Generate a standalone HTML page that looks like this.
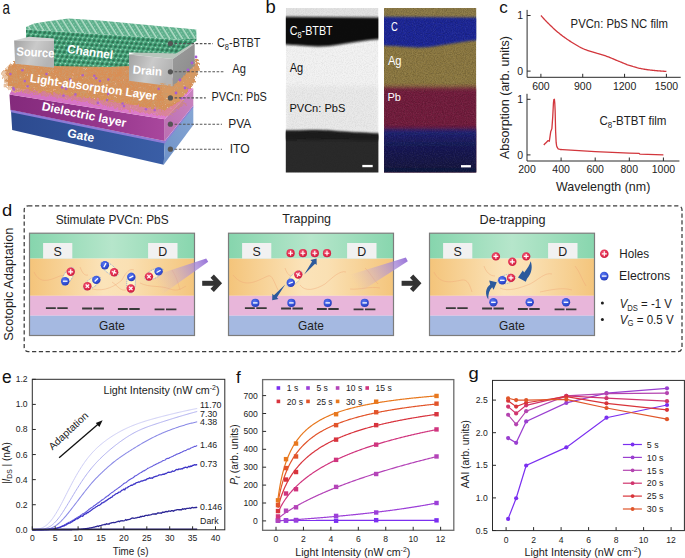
<!DOCTYPE html>
<html><head><meta charset="utf-8">
<style>
html,body{margin:0;padding:0;background:#fff;}
body{width:685px;height:558px;overflow:hidden;}
svg{display:block;font-family:"Liberation Sans", sans-serif;}
</style></head><body>
<svg width="685" height="558" viewBox="0 0 685 558" fill="#1a1a1a">
<text x="2.60" y="14.00" font-size="18.56" fill="#111" transform="translate(2.60 14.00) scale(0.72 1) translate(-2.60 -14.00)">a</text>
<text x="265.40" y="13.10" font-size="17.42" fill="#111" transform="translate(265.40 13.10) scale(1.06 1) translate(-265.40 -13.10)">b</text>
<text x="499.30" y="13.40" font-size="17.05" fill="#111" transform="translate(499.30 13.40) scale(1.0 1) translate(-499.30 -13.40)">c</text>
<text x="2.00" y="216.20" font-size="17.05" fill="#111" transform="translate(2.00 216.20) scale(1.08 1) translate(-2.00 -216.20)">d</text>
<text x="2.00" y="382.80" font-size="18.56" fill="#111" transform="translate(2.00 382.80) scale(0.94 1) translate(-2.00 -382.80)">e</text>
<text x="236.00" y="383.40" font-size="16.29" fill="#111" transform="translate(236.00 383.40) scale(1.05 1) translate(-236.00 -383.40)">f</text>
<text x="468.40" y="379.50" font-size="17.05" fill="#111" transform="translate(468.40 379.50) scale(1.08 1) translate(-468.40 -379.50)">g</text>
<defs>
<linearGradient id="gateF" x1="0" y1="0" x2="1" y2="0"><stop offset="0" stop-color="#2c4a8f"/><stop offset="1" stop-color="#3a5ea6"/></linearGradient>
<linearGradient id="gateR" x1="0" y1="1" x2="1" y2="0"><stop offset="0" stop-color="#6f92c8"/><stop offset="1" stop-color="#86a6d4"/></linearGradient>
<linearGradient id="pvaF" x1="0" y1="0" x2="1" y2="0"><stop offset="0" stop-color="#842a7c"/><stop offset="0.6" stop-color="#96368c"/><stop offset="1" stop-color="#a9479d"/></linearGradient>
<linearGradient id="pvaT" x1="0" y1="0" x2="1" y2="0"><stop offset="0" stop-color="#d270c2"/><stop offset="1" stop-color="#e07fcf"/></linearGradient>
<linearGradient id="pvaR" x1="0" y1="1" x2="1" y2="0"><stop offset="0" stop-color="#bb6fb2"/><stop offset="1" stop-color="#c984c0"/></linearGradient>
<linearGradient id="metF" x1="0" y1="0" x2="1" y2="0.3"><stop offset="0" stop-color="#a2a2a2"/><stop offset="0.55" stop-color="#cacaca"/><stop offset="1" stop-color="#b4b4b4"/></linearGradient>
<linearGradient id="metR" x1="0" y1="0" x2="1" y2="1"><stop offset="0" stop-color="#9c9c9c"/><stop offset="1" stop-color="#8a8a8a"/></linearGradient>
<pattern id="lattT" patternUnits="userSpaceOnUse" width="5.4" height="3.4" patternTransform="rotate(-32)">
 <rect width="5.4" height="3.4" fill="#5cae8a"/>
 <rect x="3.9" y="0" width="1.5" height="3.4" fill="#b4dec9"/>
 <rect x="0.7" y="0.4" width="1.5" height="1.8" rx="0.7" fill="#86caac"/>
</pattern>
<pattern id="lattF" patternUnits="userSpaceOnUse" width="4.7" height="4.5" patternTransform="rotate(4) skewX(-22)">
 <rect width="4.7" height="4.5" fill="#46a67b"/>
 <ellipse cx="2.3" cy="2.4" rx="1.35" ry="1.55" fill="#2e6f52"/>
 <ellipse cx="4.2" cy="0.6" rx="0.9" ry="0.6" fill="#c2e6d4"/>
 <ellipse cx="0.5" cy="4.2" rx="0.6" ry="0.4" fill="#a8dcc2"/>
</pattern>
<filter id="fuzz" x="-10%" y="-20%" width="120%" height="140%">
 <feTurbulence type="fractalNoise" baseFrequency="0.35" numOctaves="3" seed="7" result="t"/>
 <feDisplacementMap in="SourceGraphic" in2="t" scale="7" xChannelSelector="R" yChannelSelector="G"/>
</filter>
<filter id="orTex" x="0" y="0" width="100%" height="100%">
 <feTurbulence type="fractalNoise" baseFrequency="0.6" numOctaves="2" seed="3" result="t"/>
 <feColorMatrix in="t" type="matrix" values="0 0 0 0 0.55  0 0 0 0 0.25  0 0 0 0 0.1  0 0 0 -2.2 1.25" result="c"/>
 <feComposite in="c" in2="SourceGraphic" operator="in"/>
</filter>
<filter id="orTex2" x="0" y="0" width="100%" height="100%">
 <feTurbulence type="turbulence" baseFrequency="0.45 0.8" numOctaves="2" seed="11" result="t"/>
 <feColorMatrix in="t" type="matrix" values="0 0 0 0 0.62  0 0 0 0 0.32  0 0 0 0 0.14  2.6 0 0 0 -0.4" result="fib"/>
 <feComposite in="fib" in2="SourceAlpha" operator="in" result="fibIn"/>
 <feTurbulence type="fractalNoise" baseFrequency="0.7" numOctaves="1" seed="21" result="t2"/>
 <feColorMatrix in="t2" type="matrix" values="0 0 0 0 0.98  0 0 0 0 0.86  0 0 0 0 0.72  3 0 0 0 -2.0" result="spk"/>
 <feComposite in="spk" in2="SourceAlpha" operator="in" result="spkIn"/>
 <feMerge><feMergeNode in="SourceGraphic"/><feMergeNode in="fibIn"/><feMergeNode in="spkIn"/></feMerge>
</filter>
<filter id="soft"><feGaussianBlur stdDeviation="0.4"/></filter>
</defs>
<polygon points="11,111.3 164.8,142.8 163.7,164.8 12.2,130.0" fill="url(#gateF)"/>
<polygon points="164.8,142.8 193.3,106.4 193.3,125.0 163.7,164.8" fill="url(#gateR)"/>
<polygon points="10.4,109.6 164.8,140.9 193.3,105.4 193.3,107.2 164.8,143.6 11,112.2" fill="#8c7ad6"/>
<polygon points="9.5,94.6 164.7,119.2 164.7,140.9 10.4,109.8" fill="url(#pvaF)"/>
<polygon points="164.7,119.2 193.3,88.6 193.3,105.4 164.7,140.9" fill="url(#pvaR)"/>
<polygon points="9.5,94.6 164.7,119.2 193.3,88.6 60,66 20,72" fill="url(#pvaT)"/>
<g filter="url(#fuzz)"><polygon points="2.00,72.00 10.00,64.00 30.00,62.00 40.00,64.00 30.00,70.00 22.00,80.00 26.00,90.00 14.00,93.00 4.00,86.00" fill="#e6b48a" opacity="0.75" filter="url(#orTex2)"/></g>
<g filter="url(#fuzz)"><polygon points="12.00,86.00 60.00,92.00 120.00,100.00 165.00,106.00 180.00,98.00 186.00,104.00 168.00,116.00 130.00,110.50 80.00,101.00 30.00,93.50 12.00,90.00" fill="#d48a58" opacity="0.45" filter="url(#orTex2)"/></g>
<g filter="url(#fuzz)"><polygon points="6.00,70.00 14.00,62.00 45.00,60.00 70.00,60.00 130.00,63.00 172.00,80.00 186.00,70.00 197.00,58.00 199.00,66.00 194.00,84.00 178.00,102.00 165.00,110.00 120.00,103.00 60.00,94.00 20.00,89.00 8.00,86.00" fill="#d88f56" filter="url(#orTex2)"/></g>
<circle cx="122.6" cy="103.5" r="1.3" fill="#a65ad6" opacity="0.85"/>
<circle cx="13.3" cy="88.1" r="1.3" fill="#a65ad6" opacity="0.85"/>
<circle cx="181.6" cy="98.3" r="1.3" fill="#a65ad6" opacity="0.85"/>
<circle cx="94.3" cy="75.8" r="1.3" fill="#a65ad6" opacity="0.85"/>
<circle cx="108.1" cy="94.1" r="1.3" fill="#a65ad6" opacity="0.85"/>
<circle cx="10.4" cy="74.1" r="1.3" fill="#a65ad6" opacity="0.85"/>
<circle cx="46.5" cy="74.1" r="1.3" fill="#a65ad6" opacity="0.85"/>
<circle cx="107.2" cy="100.0" r="1.3" fill="#a65ad6" opacity="0.85"/>
<circle cx="172.4" cy="78.7" r="1.3" fill="#a65ad6" opacity="0.85"/>
<circle cx="63.5" cy="95.8" r="1.3" fill="#a65ad6" opacity="0.85"/>
<circle cx="70.2" cy="79.4" r="1.3" fill="#a65ad6" opacity="0.85"/>
<circle cx="158.6" cy="88.9" r="1.3" fill="#a65ad6" opacity="0.85"/>
<circle cx="66.1" cy="88.9" r="1.3" fill="#a65ad6" opacity="0.85"/>
<circle cx="146.0" cy="109.3" r="1.3" fill="#a65ad6" opacity="0.85"/>
<circle cx="75.4" cy="94.4" r="1.3" fill="#a65ad6" opacity="0.85"/>
<circle cx="71.4" cy="81.9" r="1.3" fill="#a65ad6" opacity="0.85"/>
<circle cx="154.7" cy="110.1" r="1.3" fill="#a65ad6" opacity="0.85"/>
<circle cx="24.8" cy="81.1" r="1.3" fill="#a65ad6" opacity="0.85"/>
<circle cx="108.3" cy="79.5" r="1.3" fill="#a65ad6" opacity="0.85"/>
<circle cx="22.4" cy="70.3" r="1.3" fill="#a65ad6" opacity="0.85"/>
<circle cx="82.7" cy="75.3" r="1.3" fill="#a65ad6" opacity="0.85"/>
<circle cx="91.8" cy="85.6" r="1.3" fill="#a65ad6" opacity="0.85"/>
<circle cx="14.0" cy="89.6" r="1.3" fill="#a65ad6" opacity="0.85"/>
<circle cx="124.0" cy="106.1" r="1.3" fill="#a65ad6" opacity="0.85"/>
<circle cx="27.6" cy="86.3" r="1.3" fill="#a65ad6" opacity="0.85"/>
<circle cx="62.2" cy="87.4" r="1.3" fill="#a65ad6" opacity="0.85"/>
<circle cx="187.6" cy="87.4" r="1.3" fill="#a65ad6" opacity="0.85"/>
<circle cx="97.8" cy="102.9" r="1.3" fill="#a65ad6" opacity="0.85"/>
<circle cx="96.1" cy="78.3" r="1.3" fill="#a65ad6" opacity="0.85"/>
<circle cx="99.9" cy="81.0" r="1.3" fill="#a65ad6" opacity="0.85"/>
<polygon points="129,54.5 150,48.5 194.7,43.8 172.8,58.9" fill="#b9c6bd"/>
<polygon points="129,54.5 172.8,58.9 172.8,86.6 129,80.8" fill="url(#metF)"/>
<polygon points="172.8,58.9 194.7,43.8 194.7,66 172.8,86.6" fill="url(#metR)"/>
<polygon points="26.00,27.00 34.00,23.50 46.50,21.50 68.40,18.60 100.00,20.50 158.40,25.90 196.40,29.50 196.40,38.50 175.00,39.50 130.00,36.00 60.00,31.50 26.00,29.50" fill="url(#lattT)"/>
<polygon points="26.00,29.50 60.00,31.50 130.00,36.00 175.00,39.50 196.40,38.50 196.40,41.00 176.00,53.50 150.00,52.80 129.00,52.60 129.00,66.00 110.00,67.00 80.00,66.50 54.00,66.00 54.00,39.00 26.00,38.50" fill="url(#lattF)"/>
<polygon points="14.1,40.5 29,36.8 54,38.5 54,40.8 14.1,40.5" fill="#d2d2d2"/>
<polygon points="14.1,40.5 54,40.8 54,67.8 15.1,63.8" fill="url(#metF)"/>
<g filter="url(#fuzz)"><polygon points="160,84 174,86 194,66 198,60 199,72 180,100 165,104" fill="#d99a62" opacity="0.8" filter="url(#orTex2)"/></g>
<circle cx="180" cy="80" r="1.4" fill="#a65ad6"/>
<circle cx="188" cy="70" r="1.4" fill="#a65ad6"/>
<circle cx="192" cy="63" r="1.4" fill="#a65ad6"/>
<circle cx="176" cy="93" r="1.4" fill="#a65ad6"/>
<circle cx="185" cy="88" r="1.4" fill="#a65ad6"/>
<circle cx="170" cy="98" r="1.4" fill="#a65ad6"/>
<circle cx="196" cy="57" r="1.4" fill="#a65ad6"/>
<text x="16.2" y="55.6" font-size="12.2" font-weight="bold" fill="#fff" textLength="38" lengthAdjust="spacingAndGlyphs" transform="rotate(3 16.2 55.6)">Source</text>
<text x="66.8" y="52.8" font-size="12.0" font-weight="bold" fill="#fff" textLength="46" lengthAdjust="spacingAndGlyphs" transform="rotate(8 66.8 52.8)">Channel</text>
<text x="132.6" y="73.6" font-size="11.8" font-weight="bold" fill="#fff" textLength="29.2" lengthAdjust="spacingAndGlyphs" transform="rotate(4 132.6 73.6)">Drain</text>
<text x="29.4" y="82.0" font-size="11.8" font-weight="bold" fill="#fff" textLength="128" lengthAdjust="spacingAndGlyphs" transform="rotate(8.2 29.4 82.0)">Light-absorption Layer</text>
<text x="41.2" y="110.0" font-size="12.0" font-weight="bold" fill="#fff" textLength="86" lengthAdjust="spacingAndGlyphs" transform="rotate(11.5 41.2 110.0)">Dielectric layer</text>
<text x="66.8" y="136.8" font-size="12.0" font-weight="bold" fill="#fff" textLength="27" lengthAdjust="spacingAndGlyphs" transform="rotate(11.5 66.8 136.8)">Gate</text>
<line x1="170.4" y1="43.6" x2="213.0" y2="43.6" stroke="#555" stroke-width="1.1" stroke-dasharray="2.6 1.6"/>
<circle cx="170.4" cy="43.6" r="2.6" fill="#555"/>
<line x1="170.4" y1="71.8" x2="223.4" y2="71.8" stroke="#555" stroke-width="1.1" stroke-dasharray="2.6 1.6"/>
<circle cx="170.4" cy="71.8" r="2.6" fill="#555"/>
<line x1="170.4" y1="97.9" x2="205.8" y2="97.9" stroke="#555" stroke-width="1.1" stroke-dasharray="2.6 1.6"/>
<circle cx="170.4" cy="97.9" r="2.6" fill="#555"/>
<line x1="170.4" y1="124.2" x2="222.0" y2="124.2" stroke="#555" stroke-width="1.1" stroke-dasharray="2.6 1.6"/>
<circle cx="170.4" cy="124.2" r="2.6" fill="#555"/>
<line x1="170.4" y1="149.2" x2="222.0" y2="149.2" stroke="#555" stroke-width="1.1" stroke-dasharray="2.6 1.6"/>
<circle cx="170.4" cy="149.2" r="2.6" fill="#555"/>
<text x="217.0" y="47.4" font-size="12.2" fill="#1e1e1e" textLength="43.4" lengthAdjust="spacingAndGlyphs">C<tspan font-size="8.4" dy="2.6">8</tspan><tspan dy="-2.6">-BTBT</tspan></text>
<text x="232.30" y="73.20" font-size="12.60" fill="#1e1e1e" textLength="13.60" lengthAdjust="spacingAndGlyphs">Ag</text>
<text x="211.40" y="100.70" font-size="12.20" fill="#1e1e1e" textLength="55.40" lengthAdjust="spacingAndGlyphs">PVCn: PbS</text>
<text x="228.30" y="128.30" font-size="12.20" fill="#1e1e1e" textLength="23.00" lengthAdjust="spacingAndGlyphs">PVA</text>
<text x="229.70" y="153.30" font-size="12.20" fill="#1e1e1e" textLength="20.00" lengthAdjust="spacingAndGlyphs">ITO</text>
<defs>
<linearGradient id="temg" x1="0" y1="0" x2="0" y2="1">
 <stop offset="0" stop-color="#dedede"/>
 <stop offset="0.035" stop-color="#e4e4e4"/>
 <stop offset="0.05" stop-color="#1a1a1a"/>
 <stop offset="0.065" stop-color="#0c0c0c"/>
 <stop offset="0.2" stop-color="#0c0c0c"/>
 <stop offset="0.5" stop-color="#f3f3f3"/>
 <stop offset="0.7" stop-color="#ebebeb"/>
 <stop offset="1" stop-color="#e6e6e6"/>
</linearGradient>
<filter id="blur1" x="-5%" y="-20%" width="110%" height="140%"><feGaussianBlur stdDeviation="1.2"/></filter>
<filter id="blur2" x="-5%" y="-20%" width="110%" height="140%"><feGaussianBlur stdDeviation="2"/></filter>
<filter id="noiseG" x="0" y="0" width="100%" height="100%">
 <feTurbulence type="fractalNoise" baseFrequency="0.9" numOctaves="2" seed="4" result="n"/>
 <feColorMatrix in="n" type="matrix" values="0 0 0 0 0  0 0 0 0 0  0 0 0 0 0  0 0 0 -1.2 0.75"/>
</filter>
<filter id="noiseW" x="0" y="0" width="100%" height="100%">
 <feTurbulence type="fractalNoise" baseFrequency="0.9" numOctaves="2" seed="9" result="n"/>
 <feColorMatrix in="n" type="matrix" values="0 0 0 0 1  0 0 0 0 1  0 0 0 0 1  0 0 0 -1.4 0.8"/>
</filter>
<clipPath id="clipTEM"><rect x="285.8" y="8.1" width="92.6" height="164.3"/></clipPath>
<clipPath id="clipEDS"><rect x="384" y="8.1" width="92.3" height="164.3"/></clipPath>
</defs>
<g clip-path="url(#clipTEM)">
<rect x="285.8" y="8.1" width="92.6" height="164.3" fill="#f2f2f2"/>
<rect x="285.8" y="8.1" width="92.6" height="9" fill="#e2e2e2"/>
<rect x="285.8" y="86" width="92.6" height="46" fill="#e9e9e9" filter="url(#blur2)"/>
<path d="M282.8,16.8 L381.4,17.6 L381.4,39.0 C365,40 352,42.5 340,44.5 C330,46.5 318,47 308,46 C298,45.5 292,45 282.8,44.6 Z" fill="#0d0d0d" filter="url(#blur1)"/>
<path d="M282.8,130.5 C300,131 315,129 330,130.5 C345,132 360,132.5 381.4,133.5 L381.4,175.4 L282.8,175.4 Z" fill="#2c2c2c" filter="url(#blur1)"/>
<path d="M282.8,131.5 C300,132 315,130 330,131.5 C345,133 360,133.5 381.4,134.5 L381.4,140 C360,141 340,139 320,140 C305,140.5 295,139 282.8,139.5 Z" fill="#1a1a1a" filter="url(#blur1)"/>
<rect x="285.8" y="8.1" width="92.6" height="164.3" filter="url(#noiseG)" opacity="0.10"/>
</g>
<rect x="362.3" y="164.9" width="10.4" height="2.3" fill="#fff"/>
<text x="289.7" y="35.3" font-size="12.2" fill="#fff" textLength="43" lengthAdjust="spacingAndGlyphs">C<tspan font-size="8.4" dy="2.6">8</tspan><tspan dy="-2.6">-BTBT</tspan></text>
<text x="289.70" y="71.70" font-size="12.40" fill="#111" textLength="13.50" lengthAdjust="spacingAndGlyphs">Ag</text>
<text x="289.40" y="111.90" font-size="11.50" fill="#111" textLength="55.90" lengthAdjust="spacingAndGlyphs">PVCn: PbS</text>
<g clip-path="url(#clipEDS)">
<rect x="384.0" y="8.1" width="92.3" height="164.3" fill="#8e7a42"/>
<rect x="384.0" y="8.1" width="92.3" height="9" fill="#8e7c48"/>
<path d="M381.0,16.8 L479.3,17.6 L479.3,40.0 C465,41 452,43.5 440,45.5 C430,47.5 418,48 408,47 C398,46.5 392,46 381.0,45.6 Z" fill="#1b2898" filter="url(#blur1)"/>
<path d="M381.0,87 C400,88 420,86.5 440,87.5 C455,88 465,87 479.3,88 L479.3,175.4 L381.0,175.4 Z" fill="#731a3c" filter="url(#blur2)"/>
<linearGradient id="navy" x1="0" y1="0" x2="0" y2="1"><stop offset="0" stop-color="#22237a"/><stop offset="0.35" stop-color="#181a58"/><stop offset="1" stop-color="#10113a"/></linearGradient>
<rect x="381.0" y="129" width="98.3" height="46.4" fill="url(#navy)" filter="url(#blur2)"/>
<rect x="384.0" y="8.1" width="92.3" height="164.3" filter="url(#noiseG)" opacity="0.35"/>
<rect x="384.0" y="8.1" width="92.3" height="164.3" filter="url(#noiseW)" opacity="0.12"/>
</g>
<rect x="461" y="165.1" width="9.9" height="2.3" fill="#fff"/>
<text x="391.10" y="31.40" font-size="12.20" fill="#fff" textLength="6.80" lengthAdjust="spacingAndGlyphs">C</text>
<text x="387.90" y="64.90" font-size="12.40" fill="#fff" textLength="13.60" lengthAdjust="spacingAndGlyphs">Ag</text>
<text x="387.50" y="101.10" font-size="11.80" fill="#fff" textLength="13.50" lengthAdjust="spacingAndGlyphs">Pb</text>
<path d="M540.90,15.50 L541.74,16.44 L542.58,17.38 L543.43,18.30 L544.27,19.21 L545.11,20.11 L545.95,20.99 L546.80,21.86 L547.64,22.72 L548.48,23.56 L549.32,24.38 L550.17,25.20 L551.01,26.02 L551.85,26.82 L552.69,27.62 L553.53,28.41 L554.38,29.19 L555.22,29.95 L556.06,30.70 L556.90,31.44 L557.75,32.16 L558.59,32.87 L559.43,33.56 L560.27,34.23 L561.11,34.88 L561.96,35.53 L562.80,36.16 L563.64,36.79 L564.48,37.40 L565.33,38.00 L566.17,38.59 L567.01,39.17 L567.85,39.74 L568.70,40.30 L569.54,40.86 L570.38,41.40 L571.22,41.93 L572.06,42.46 L572.91,42.99 L573.75,43.51 L574.59,44.03 L575.43,44.54 L576.28,45.05 L577.12,45.55 L577.96,46.04 L578.80,46.51 L579.64,46.97 L580.49,47.41 L581.33,47.84 L582.17,48.24 L583.01,48.62 L583.86,48.98 L584.70,49.33 L585.54,49.65 L586.38,49.97 L587.23,50.27 L588.07,50.56 L588.91,50.84 L589.75,51.12 L590.59,51.39 L591.44,51.66 L592.28,51.92 L593.12,52.19 L593.96,52.45 L594.81,52.72 L595.65,52.99 L596.49,53.24 L597.33,53.50 L598.18,53.74 L599.02,53.99 L599.86,54.22 L600.70,54.46 L601.54,54.70 L602.39,54.95 L603.23,55.20 L604.07,55.45 L604.91,55.71 L605.76,55.99 L606.60,56.27 L607.44,56.57 L608.28,56.88 L609.12,57.20 L609.97,57.54 L610.81,57.88 L611.65,58.23 L612.49,58.59 L613.34,58.95 L614.18,59.31 L615.02,59.67 L615.86,60.03 L616.71,60.39 L617.55,60.73 L618.39,61.08 L619.23,61.42 L620.07,61.77 L620.92,62.12 L621.76,62.47 L622.60,62.82 L623.44,63.17 L624.29,63.52 L625.13,63.87 L625.97,64.20 L626.81,64.53 L627.66,64.84 L628.50,65.15 L629.34,65.43 L630.18,65.71 L631.02,65.97 L631.87,66.23 L632.71,66.49 L633.55,66.75 L634.39,66.99 L635.24,67.23 L636.08,67.46 L636.92,67.69 L637.76,67.90 L638.60,68.11 L639.45,68.30 L640.29,68.48 L641.13,68.65 L641.97,68.81 L642.82,68.96 L643.66,69.10 L644.50,69.24 L645.34,69.38 L646.19,69.50 L647.03,69.62 L647.87,69.74 L648.71,69.85 L649.55,69.96 L650.40,70.06 L651.24,70.16 L652.08,70.25 L652.92,70.34 L653.77,70.42 L654.61,70.51 L655.45,70.59 L656.29,70.66 L657.13,70.74 L657.98,70.82 L658.82,70.89 L659.66,70.96 L660.50,71.02 L661.35,71.08 L662.19,71.14 L663.03,71.20 L663.87,71.25 L664.72,71.30 L665.56,71.34 L666.40,71.38" stroke="#d2363c" stroke-width="1.3" fill="none"/>
<path d="M527.1,9.9 V77.3 H680.7" stroke="#2a2a2a" stroke-width="1" fill="none"/>
<text x="540.90" y="89.60" font-size="10.50" text-anchor="middle" fill="#222">600</text>
<text x="582.73" y="89.60" font-size="10.50" text-anchor="middle" fill="#222">900</text>
<text x="624.57" y="89.60" font-size="10.50" text-anchor="middle" fill="#222">1200</text>
<text x="666.40" y="89.60" font-size="10.50" text-anchor="middle" fill="#222">1500</text>
<path d="M527.1,15.50h3.5 M527.1,71.10h3.5 M540.90,77.3v-3.5 M582.73,77.3v-3.5 M624.57,77.3v-3.5 M666.40,77.3v-3.5" stroke="#2a2a2a" stroke-width="1" fill="none"/>
<text x="523.20" y="19.20" font-size="10.50" text-anchor="end" fill="#222">1</text>
<text x="523.20" y="74.80" font-size="10.50" text-anchor="end" fill="#222">0</text>
<text x="570.60" y="28.40" font-size="11.90" fill="#222" textLength="97.40" lengthAdjust="spacingAndGlyphs">PVCn: PbS NC film</text>
<path d="M543.79,144.95 L544.90,143.78 L546.27,142.45 L548.14,140.56 L549.34,141.22 L550.19,135.44 L550.70,131.83 L551.89,128.60 L552.75,116.65 L553.43,103.19 L553.85,99.58 L554.40,99.30 L554.79,103.19 L555.13,110.42 L555.64,131.83 L556.16,142.67 L556.60,145.67 L557.35,147.67 L558.20,148.78 L560.25,149.51 L562.63,149.67 L574.91,150.40 L595.20,151.56 L612.25,152.40 L629.30,153.12 L639.19,153.45 L639.87,154.12 L663.40,154.90" stroke="#d2363c" stroke-width="1.3" fill="none" stroke-linejoin="round"/>
<path d="M527.0,93.8 V161.0 H679.4" stroke="#2a2a2a" stroke-width="1" fill="none"/>
<text x="527.00" y="173.40" font-size="10.50" text-anchor="middle" fill="#222">200</text>
<text x="561.10" y="173.40" font-size="10.50" text-anchor="middle" fill="#222">400</text>
<text x="595.20" y="173.40" font-size="10.50" text-anchor="middle" fill="#222">600</text>
<text x="629.30" y="173.40" font-size="10.50" text-anchor="middle" fill="#222">800</text>
<text x="663.40" y="173.40" font-size="10.50" text-anchor="middle" fill="#222">1000</text>
<path d="M527.0,99.30h3.5 M527.0,154.90h3.5 M561.10,161.0v-3.5 M595.20,161.0v-3.5 M629.30,161.0v-3.5 M663.40,161.0v-3.5" stroke="#2a2a2a" stroke-width="1" fill="none"/>
<text x="523.20" y="103.00" font-size="10.50" text-anchor="end" fill="#222">1</text>
<text x="523.20" y="158.60" font-size="10.50" text-anchor="end" fill="#222">0</text>
<text x="599.4" y="125.4" font-size="11.9" fill="#222" textLength="67" lengthAdjust="spacingAndGlyphs">C<tspan font-size="8.2" dy="2.6">8</tspan><tspan dy="-2.6">-BTBT film</tspan></text>
<text x="556.00" y="191.40" font-size="12.40" fill="#222" textLength="94.30" lengthAdjust="spacingAndGlyphs">Wavelength (nm)</text>
<text transform="translate(508.8 97.5) rotate(-90)" text-anchor="middle" font-size="12.4" fill="#222" textLength="123" lengthAdjust="spacingAndGlyphs">Absorption (arb. units)</text>
<defs>
<radialGradient id="gh" cx="0.4" cy="0.35" r="0.7"><stop offset="0" stop-color="#f25a78"/><stop offset="0.6" stop-color="#e02a4c"/><stop offset="1" stop-color="#c81c3c"/></radialGradient>
<radialGradient id="ge" cx="0.4" cy="0.35" r="0.7"><stop offset="0" stop-color="#5a78f0"/><stop offset="0.6" stop-color="#3452d8"/><stop offset="1" stop-color="#2438b0"/></radialGradient>
<linearGradient id="ggreen" x1="0" y1="0" x2="1" y2="0"><stop offset="0" stop-color="#86d5ad"/><stop offset="0.5" stop-color="#b6e6cb"/><stop offset="1" stop-color="#88d6ae"/></linearGradient>
<linearGradient id="gorange" x1="0" y1="0" x2="1" y2="0"><stop offset="0" stop-color="#f4c47a"/><stop offset="0.45" stop-color="#fbe3b9"/><stop offset="0.6" stop-color="#fae0b3"/><stop offset="1" stop-color="#f4c57c"/></linearGradient>
<linearGradient id="gbeam" x1="1" y1="0" x2="0" y2="0.3"><stop offset="0" stop-color="#9670d8" stop-opacity="1"/><stop offset="0.35" stop-color="#ad90d6" stop-opacity="0.7"/><stop offset="1" stop-color="#d0b0d8" stop-opacity="0"/></linearGradient>
</defs>
<rect x="24.2" y="205.8" width="657.8" height="145.8" rx="4" fill="none" stroke="#3c3c3c" stroke-width="1.25" stroke-dasharray="4.2 2.6" transform="scale(1 1)"/>
<text x="55.70" y="223.60" font-size="12.20" fill="#1e1e1e" textLength="112.90" lengthAdjust="spacingAndGlyphs">Stimulate PVCn: PbS</text>
<text x="282.30" y="223.20" font-size="12.20" fill="#1e1e1e" textLength="48.70" lengthAdjust="spacingAndGlyphs">Trapping</text>
<text x="479.50" y="223.50" font-size="12.20" fill="#1e1e1e" textLength="66.10" lengthAdjust="spacingAndGlyphs">De-trapping</text>
<text transform="translate(13.2 284.2) rotate(-90)" text-anchor="middle" font-size="12.4" fill="#1e1e1e" textLength="113.2" lengthAdjust="spacingAndGlyphs">Scotopic Adaptation</text>
<rect x="29.5" y="233.2" width="165.0" height="25.40" fill="url(#ggreen)"/>
<rect x="29.5" y="258.6" width="165.0" height="37.20" fill="url(#gorange)"/>
<rect x="29.5" y="295.8" width="165.0" height="19.90" fill="#e8b6da"/>
<rect x="29.5" y="315.7" width="165.0" height="19.80" fill="#a5b9e1"/>
<rect x="43.10" y="243.0" width="29.2" height="15.60" fill="#f1f1f1"/>
<rect x="148.10" y="243.0" width="29.4" height="15.60" fill="#f1f1f1"/>
<text x="57.70" y="255.60" font-size="12.40" text-anchor="middle" fill="#1e1e1e">S</text>
<text x="162.80" y="255.60" font-size="12.40" text-anchor="middle" fill="#1e1e1e">D</text>
<text x="112.00" y="330.20" font-size="12.40" text-anchor="middle" fill="#1e1e1e" textLength="25.80" lengthAdjust="spacingAndGlyphs">Gate</text>
<rect x="29.5" y="233.2" width="165.0" height="102.30" fill="none" stroke="#7c7c7c" stroke-width="1.2"/>
<path d="M34,272 C40,285 50,280 60,276 C66,274 68,280 72,279" fill="none" stroke="#f0a878" stroke-width="0.6" opacity="0.75"/>
<path d="M80,267 C82,272 84,276 88,275" fill="none" stroke="#f0a878" stroke-width="0.6" opacity="0.75"/>
<path d="M92,289 C105,292 115,286 122,280 C126,272 130,268 134,270" fill="none" stroke="#f0a878" stroke-width="0.6" opacity="0.75"/>
<path d="M140,283 C150,288 160,285 170,289 C178,292 182,288 186,286" fill="none" stroke="#f0a878" stroke-width="0.6" opacity="0.75"/>
<path d="M172,270 C176,276 178,282 180,290" fill="none" stroke="#f0a878" stroke-width="0.6" opacity="0.75"/>
<path d="M112,282 C118,286 120,291 126,290" fill="none" stroke="#f0a878" stroke-width="0.6" opacity="0.75"/>
<path d="M45.90,308.10h9.9M57.30,308.10h10.4" stroke="#3a3a3a" stroke-width="1.9"/>
<path d="M82.10,308.53h9.9M93.50,308.53h10.4" stroke="#3a3a3a" stroke-width="1.9"/>
<path d="M117.90,308.96h9.9M129.30,308.96h10.4" stroke="#3a3a3a" stroke-width="1.9"/>
<path d="M154.60,309.39h9.9M166.00,309.39h10.4" stroke="#3a3a3a" stroke-width="1.9"/>
<ellipse cx="67.95" cy="276.50" rx="10.05" ry="4.3" transform="rotate(120.3 67.95 276.50)" fill="#fff3c6" stroke="#6e92d8" stroke-width="0.7" stroke-dasharray="1 0.9"/>
<ellipse cx="91.85" cy="283.05" rx="10.05" ry="4.3" transform="rotate(-35.3 91.85 283.05)" fill="#fff3c6" stroke="#6e92d8" stroke-width="0.7" stroke-dasharray="1 0.9"/>
<ellipse cx="109.50" cy="268.75" rx="10.41" ry="4.3" transform="rotate(-142.3 109.50 268.75)" fill="#fff3c6" stroke="#6e92d8" stroke-width="0.7" stroke-dasharray="1 0.9"/>
<ellipse cx="131.05" cy="282.75" rx="10.36" ry="4.3" transform="rotate(-87.5 131.05 282.75)" fill="#fff3c6" stroke="#6e92d8" stroke-width="0.7" stroke-dasharray="1 0.9"/>
<ellipse cx="153.80" cy="274.00" rx="10.06" ry="4.3" transform="rotate(-28.4 153.80 274.00)" fill="#fff3c6" stroke="#6e92d8" stroke-width="0.7" stroke-dasharray="1 0.9"/>
<circle cx="70.70" cy="271.80" r="4.2" fill="url(#gh)"/>
<path d="M68.26,271.80h4.87M70.70,269.36v4.87" stroke="#fff" stroke-width="1.15" transform="rotate(0 70.70 271.80)"/>
<circle cx="65.20" cy="281.20" r="4.2" fill="url(#ge)"/>
<path d="M62.89,281.20h4.62" stroke="#fff" stroke-width="1.3" transform="rotate(0 65.20 281.20)"/>
<circle cx="87.40" cy="286.20" r="4.2" fill="url(#gh)"/>
<path d="M84.96,286.20h4.87M87.40,283.76v4.87" stroke="#fff" stroke-width="1.15" transform="rotate(45 87.40 286.20)"/>
<circle cx="96.30" cy="279.90" r="4.2" fill="url(#ge)"/>
<path d="M93.99,279.90h4.62" stroke="#fff" stroke-width="1.3" transform="rotate(-45 96.30 279.90)"/>
<circle cx="114.10" cy="272.30" r="4.2" fill="url(#gh)"/>
<path d="M111.66,272.30h4.87M114.10,269.86v4.87" stroke="#fff" stroke-width="1.15" transform="rotate(20 114.10 272.30)"/>
<circle cx="104.90" cy="265.20" r="4.2" fill="url(#ge)"/>
<path d="M102.59,265.20h4.62" stroke="#fff" stroke-width="1.3" transform="rotate(-60 104.90 265.20)"/>
<circle cx="130.80" cy="288.50" r="4.2" fill="url(#gh)"/>
<path d="M128.36,288.50h4.87M130.80,286.06v4.87" stroke="#fff" stroke-width="1.15" transform="rotate(45 130.80 288.50)"/>
<circle cx="131.30" cy="277.00" r="4.2" fill="url(#ge)"/>
<path d="M128.99,277.00h4.62" stroke="#fff" stroke-width="1.3" transform="rotate(-30 131.30 277.00)"/>
<circle cx="149.00" cy="276.60" r="4.2" fill="url(#gh)"/>
<path d="M146.56,276.60h4.87M149.00,274.16v4.87" stroke="#fff" stroke-width="1.15" transform="rotate(45 149.00 276.60)"/>
<circle cx="158.60" cy="271.40" r="4.2" fill="url(#ge)"/>
<path d="M156.29,271.40h4.62" stroke="#fff" stroke-width="1.3" transform="rotate(-30 158.60 271.40)"/>
<polygon points="206.2,258.6 208.2,261.8 160,296 150,277" fill="url(#gbeam)"/>
<rect x="228.5" y="233.2" width="165.0" height="25.40" fill="url(#ggreen)"/>
<rect x="228.5" y="258.6" width="165.0" height="37.20" fill="url(#gorange)"/>
<rect x="228.5" y="295.8" width="165.0" height="19.90" fill="#e8b6da"/>
<rect x="228.5" y="315.7" width="165.0" height="19.80" fill="#a5b9e1"/>
<rect x="242.10" y="243.0" width="29.2" height="15.60" fill="#f1f1f1"/>
<rect x="347.10" y="243.0" width="29.4" height="15.60" fill="#f1f1f1"/>
<text x="256.70" y="255.60" font-size="12.40" text-anchor="middle" fill="#1e1e1e">S</text>
<text x="361.80" y="255.60" font-size="12.40" text-anchor="middle" fill="#1e1e1e">D</text>
<text x="311.00" y="330.20" font-size="12.40" text-anchor="middle" fill="#1e1e1e" textLength="25.80" lengthAdjust="spacingAndGlyphs">Gate</text>
<rect x="228.5" y="233.2" width="165.0" height="102.30" fill="none" stroke="#7c7c7c" stroke-width="1.2"/>
<path d="M233,275 C245,290 258,280 268,276 C272,274 274,282 278,290" fill="none" stroke="#f0a878" stroke-width="0.6" opacity="0.75"/>
<path d="M285,268 C287,274 290,277 295,277" fill="none" stroke="#f0a878" stroke-width="0.6" opacity="0.75"/>
<path d="M300,285 C305,292 315,290 325,284 C332,278 340,270 346,272" fill="none" stroke="#f0a878" stroke-width="0.6" opacity="0.75"/>
<path d="M350,289 C360,290 370,286 380,288" fill="none" stroke="#f0a878" stroke-width="0.6" opacity="0.75"/>
<path d="M365,268 C370,272 372,278 378,284" fill="none" stroke="#f0a878" stroke-width="0.6" opacity="0.75"/>
<path d="M244.90,308.10h9.9M256.30,308.10h10.4" stroke="#3a3a3a" stroke-width="1.9"/>
<path d="M281.10,308.53h9.9M292.50,308.53h10.4" stroke="#3a3a3a" stroke-width="1.9"/>
<path d="M316.90,308.96h9.9M328.30,308.96h10.4" stroke="#3a3a3a" stroke-width="1.9"/>
<path d="M353.60,309.39h9.9M365.00,309.39h10.4" stroke="#3a3a3a" stroke-width="1.9"/>
<circle cx="290.60" cy="253.20" r="4.1" fill="url(#gh)"/>
<path d="M288.22,253.20h4.76M290.60,250.82v4.76" stroke="#fff" stroke-width="1.15" transform="rotate(0 290.60 253.20)"/>
<circle cx="302.90" cy="253.20" r="4.1" fill="url(#gh)"/>
<path d="M300.52,253.20h4.76M302.90,250.82v4.76" stroke="#fff" stroke-width="1.15" transform="rotate(0 302.90 253.20)"/>
<circle cx="314.80" cy="253.20" r="4.1" fill="url(#gh)"/>
<path d="M312.42,253.20h4.76M314.80,250.82v4.76" stroke="#fff" stroke-width="1.15" transform="rotate(0 314.80 253.20)"/>
<circle cx="327.00" cy="253.20" r="4.1" fill="url(#gh)"/>
<path d="M324.62,253.20h4.76M327.00,250.82v4.76" stroke="#fff" stroke-width="1.15" transform="rotate(0 327.00 253.20)"/>
<circle cx="255.30" cy="302.90" r="4.1" fill="url(#ge)"/>
<path d="M253.05,302.90h4.51" stroke="#fff" stroke-width="1.3" transform="rotate(0 255.30 302.90)"/>
<circle cx="291.40" cy="302.90" r="4.1" fill="url(#ge)"/>
<path d="M289.14,302.90h4.51" stroke="#fff" stroke-width="1.3" transform="rotate(0 291.40 302.90)"/>
<circle cx="327.70" cy="302.90" r="4.1" fill="url(#ge)"/>
<path d="M325.44,302.90h4.51" stroke="#fff" stroke-width="1.3" transform="rotate(0 327.70 302.90)"/>
<circle cx="364.70" cy="302.90" r="4.1" fill="url(#ge)"/>
<path d="M362.44,302.90h4.51" stroke="#fff" stroke-width="1.3" transform="rotate(0 364.70 302.90)"/>
<ellipse cx="294.55" cy="278.70" rx="10.16" ry="4.3" transform="rotate(132.4 294.55 278.70)" fill="#fff3c6" stroke="#6e92d8" stroke-width="0.7" stroke-dasharray="1 0.9"/>
<polygon points="304.20,274.60 315.04,263.72 316.70,265.00 316.60,258.60 310.38,260.10 312.04,261.39" fill="#2c5a9c"/>
<polygon points="285.20,284.60 273.94,295.14 272.33,293.80 272.20,300.20 278.47,298.92 276.86,297.58" fill="#2c5a9c"/>
<circle cx="298.30" cy="274.60" r="4.2" fill="url(#gh)"/>
<path d="M295.86,274.60h4.87M298.30,272.16v4.87" stroke="#fff" stroke-width="1.15" transform="rotate(30 298.30 274.60)"/>
<circle cx="290.80" cy="282.80" r="4.2" fill="url(#ge)"/>
<path d="M288.49,282.80h4.62" stroke="#fff" stroke-width="1.3" transform="rotate(-20 290.80 282.80)"/>
<polygon points="405.8,257.6 407.8,261.2 360,292 346,276" fill="url(#gbeam)"/>
<rect x="429.5" y="233.2" width="165.0" height="25.40" fill="url(#ggreen)"/>
<rect x="429.5" y="258.6" width="165.0" height="37.20" fill="url(#gorange)"/>
<rect x="429.5" y="295.8" width="165.0" height="19.90" fill="#e8b6da"/>
<rect x="429.5" y="315.7" width="165.0" height="19.80" fill="#a5b9e1"/>
<rect x="443.10" y="243.0" width="29.2" height="15.60" fill="#f1f1f1"/>
<rect x="548.10" y="243.0" width="29.4" height="15.60" fill="#f1f1f1"/>
<text x="457.70" y="255.60" font-size="12.40" text-anchor="middle" fill="#1e1e1e">S</text>
<text x="562.80" y="255.60" font-size="12.40" text-anchor="middle" fill="#1e1e1e">D</text>
<text x="512.00" y="330.20" font-size="12.40" text-anchor="middle" fill="#1e1e1e" textLength="25.80" lengthAdjust="spacingAndGlyphs">Gate</text>
<rect x="429.5" y="233.2" width="165.0" height="102.30" fill="none" stroke="#7c7c7c" stroke-width="1.2"/>
<path d="M434,272 C440,285 452,282 462,280 C468,279 470,286 472,292" fill="none" stroke="#f0a878" stroke-width="0.6" opacity="0.75"/>
<path d="M484,266 C486,272 490,276 495,276" fill="none" stroke="#f0a878" stroke-width="0.6" opacity="0.75"/>
<path d="M500,288 C508,292 520,288 530,284 C538,280 545,272 552,274" fill="none" stroke="#f0a878" stroke-width="0.6" opacity="0.75"/>
<path d="M540,292 C550,290 562,287 572,290" fill="none" stroke="#f0a878" stroke-width="0.6" opacity="0.75"/>
<path d="M575,266 C580,272 582,280 586,286" fill="none" stroke="#f0a878" stroke-width="0.6" opacity="0.75"/>
<path d="M445.90,308.10h9.9M457.30,308.10h10.4" stroke="#3a3a3a" stroke-width="1.9"/>
<path d="M482.10,308.53h9.9M493.50,308.53h10.4" stroke="#3a3a3a" stroke-width="1.9"/>
<path d="M517.90,308.96h9.9M529.30,308.96h10.4" stroke="#3a3a3a" stroke-width="1.9"/>
<path d="M554.60,309.39h9.9M566.00,309.39h10.4" stroke="#3a3a3a" stroke-width="1.9"/>
<circle cx="495.90" cy="256.40" r="4.2" fill="url(#gh)"/>
<path d="M493.46,256.40h4.87M495.90,253.96v4.87" stroke="#fff" stroke-width="1.15" transform="rotate(0 495.90 256.40)"/>
<circle cx="512.30" cy="261.80" r="4.2" fill="url(#gh)"/>
<path d="M509.86,261.80h4.87M512.30,259.36v4.87" stroke="#fff" stroke-width="1.15" transform="rotate(0 512.30 261.80)"/>
<circle cx="526.20" cy="256.40" r="4.2" fill="url(#gh)"/>
<path d="M523.76,256.40h4.87M526.20,253.96v4.87" stroke="#fff" stroke-width="1.15" transform="rotate(0 526.20 256.40)"/>
<circle cx="493.40" cy="302.30" r="4.2" fill="url(#ge)"/>
<path d="M491.09,302.30h4.62" stroke="#fff" stroke-width="1.3" transform="rotate(0 493.40 302.30)"/>
<circle cx="529.70" cy="302.30" r="4.2" fill="url(#ge)"/>
<path d="M527.39,302.30h4.62" stroke="#fff" stroke-width="1.3" transform="rotate(0 529.70 302.30)"/>
<circle cx="566.00" cy="302.30" r="4.2" fill="url(#ge)"/>
<path d="M563.69,302.30h4.62" stroke="#fff" stroke-width="1.3" transform="rotate(0 566.00 302.30)"/>
<ellipse cx="506.65" cy="279.10" rx="9.11" ry="4.3" transform="rotate(164.6 506.65 279.10)" fill="#fff3c6" stroke="#6e92d8" stroke-width="0.7" stroke-dasharray="1 0.9"/>
<circle cx="511.00" cy="277.90" r="4.2" fill="url(#gh)"/>
<path d="M508.56,277.90h4.87M511.00,275.46v4.87" stroke="#fff" stroke-width="1.15" transform="rotate(0 511.00 277.90)"/>
<circle cx="502.30" cy="280.30" r="4.2" fill="url(#ge)"/>
<path d="M499.99,280.30h4.62" stroke="#fff" stroke-width="1.3" transform="rotate(0 502.30 280.30)"/>
<path d="M530.6,261.3 C532.6,266 532.2,273 527.0,278.8 L525.8,281.8 L518.0,277.4 L522.8,270.6 L524.2,272.4 C527.4,268.6 529.8,265 530.6,261.3 Z" fill="#2c5a9c"/>
<path d="M488.3,299.6 C484.8,294 485.4,288 490.2,284.4 L489.2,280.6 L496.8,282.2 L493.6,289.8 L492.2,287.2 C489.4,289.8 488.0,294 488.3,299.6 Z" fill="#2c5a9c"/>
<rect x="202.2" y="280.8" width="15.2" height="5.0" fill="#333"/>
<path d="M212.2,276.2 L218.9,283.3 L212.2,290.4" fill="none" stroke="#333" stroke-width="4.6" stroke-linejoin="miter"/>
<rect x="401.6" y="280.8" width="15.2" height="5.0" fill="#333"/>
<path d="M411.6,276.2 L418.3,283.3 L411.6,290.4" fill="none" stroke="#333" stroke-width="4.6" stroke-linejoin="miter"/>
<circle cx="604.30" cy="253.80" r="4.3" fill="url(#gh)"/>
<path d="M601.81,253.80h4.99M604.30,251.31v4.99" stroke="#fff" stroke-width="1.15" transform="rotate(0 604.30 253.80)"/>
<circle cx="604.20" cy="276.10" r="4.3" fill="url(#ge)"/>
<path d="M601.84,276.10h4.73" stroke="#fff" stroke-width="1.3" transform="rotate(0 604.20 276.10)"/>
<text x="619.30" y="257.80" font-size="12.20" fill="#1e1e1e" textLength="29.90" lengthAdjust="spacingAndGlyphs">Holes</text>
<text x="619.00" y="279.80" font-size="12.20" fill="#1e1e1e" textLength="51.10" lengthAdjust="spacingAndGlyphs">Electrons</text>
<circle cx="602.4" cy="303.0" r="1.5" fill="#1e1e1e"/>
<circle cx="602.4" cy="319.6" r="1.5" fill="#1e1e1e"/>
<text x="619.7" y="308.0" font-size="12.2" fill="#1e1e1e" textLength="52.2" lengthAdjust="spacingAndGlyphs"><tspan font-style="italic">V</tspan><tspan font-size="8.2" dy="2.6">DS</tspan><tspan dy="-2.6"> = -1 V</tspan></text>
<text x="619.7" y="323.6" font-size="12.2" fill="#1e1e1e" textLength="54" lengthAdjust="spacingAndGlyphs"><tspan font-style="italic">V</tspan><tspan font-size="8.2" dy="2.6">G</tspan><tspan dy="-2.6"> = 0.5 V</tspan></text>
<g fill="none">
<path d="M32.30,529.68 L33.22,529.64 L34.13,529.58 L35.05,529.50 L35.96,529.41 L36.88,529.28 L37.80,529.13 L38.71,528.94 L39.63,528.71 L40.54,528.44 L41.46,528.11 L42.38,527.73 L43.29,527.28 L44.21,526.76 L45.12,526.18 L46.04,525.52 L46.96,524.78 L47.87,523.96 L48.79,523.06 L49.70,522.09 L50.62,521.03 L51.54,519.90 L52.45,518.69 L53.37,517.41 L54.28,516.07 L55.20,514.66 L56.12,513.19 L57.03,511.67 L57.95,510.10 L58.86,508.48 L59.78,506.83 L60.70,505.13 L61.61,503.41 L62.53,501.66 L63.44,499.89 L64.36,498.11 L65.28,496.31 L66.19,494.52 L67.11,492.72 L68.02,490.92 L68.94,489.13 L69.86,487.35 L70.77,485.59 L71.69,483.85 L72.60,482.13 L73.52,480.43 L74.44,478.76 L75.35,477.11 L76.27,475.50 L77.18,473.91 L78.10,472.36 L79.02,470.84 L79.93,469.35 L80.85,467.90 L81.76,466.48 L82.68,465.09 L83.60,463.74 L84.51,462.43 L85.43,461.15 L86.34,459.91 L87.26,458.70 L88.18,457.53 L89.09,456.39 L90.01,455.29 L90.92,454.22 L91.84,453.18 L92.76,452.18 L93.67,451.21 L94.59,450.26 L95.50,449.35 L96.42,448.46 L97.34,447.59 L98.25,446.75 L99.17,445.94 L100.08,445.14 L101.00,444.36 L101.92,443.61 L102.83,442.87 L103.75,442.14 L104.66,441.44 L105.58,440.75 L106.50,440.07 L107.41,439.41 L108.33,438.76 L109.24,438.13 L110.16,437.50 L111.08,436.89 L111.99,436.30 L112.91,435.71 L113.82,435.14 L114.74,434.58 L115.66,434.03 L116.57,433.49 L117.49,432.96 L118.40,432.44 L119.32,431.94 L120.24,431.44 L121.15,430.95 L122.07,430.48 L122.98,430.01 L123.90,429.55 L124.82,429.10 L125.73,428.66 L126.65,428.23 L127.56,427.81 L128.48,427.40 L129.40,427.00 L130.31,426.60 L131.23,426.21 L132.14,425.83 L133.06,425.46 L133.98,425.10 L134.89,424.74 L135.81,424.39 L136.72,424.05 L137.64,423.71 L138.56,423.38 L139.47,423.06 L140.39,422.74 L141.30,422.43 L142.22,422.13 L143.14,421.83 L144.05,421.53 L144.97,421.24 L145.88,420.96 L146.80,420.68 L147.72,420.40 L148.63,420.13 L149.55,419.86 L150.46,419.60 L151.38,419.34 L152.30,419.08 L153.21,418.82 L154.13,418.57 L155.04,418.32 L155.96,418.07 L156.88,417.82 L157.79,417.58 L158.71,417.34 L159.62,417.10 L160.54,416.86 L161.46,416.62 L162.37,416.38 L163.29,416.15 L164.20,415.92 L165.12,415.68 L166.04,415.45 L166.95,415.22 L167.87,415.00 L168.78,414.77 L169.70,414.54 L170.62,414.32 L171.53,414.09 L172.45,413.87 L173.36,413.65 L174.28,413.43 L175.20,413.21 L176.11,413.00 L177.03,412.78 L177.94,412.57 L178.86,412.36 L179.78,412.15 L180.69,411.94 L181.61,411.73 L182.52,411.53 L183.44,411.32 L184.36,411.12 L185.27,410.92 L186.19,410.72 L187.10,410.52 L188.02,410.32 L188.94,410.13 L189.85,409.94 L190.77,409.75 L191.68,409.56 L192.60,409.37 L193.52,409.19 L194.43,409.00 L195.35,408.82 L196.26,408.65 L197.18,408.47" stroke="#cdcdf6" stroke-width="1.0"/>
<path d="M32.30,529.78 L33.22,529.77 L34.13,529.76 L35.05,529.74 L35.96,529.72 L36.88,529.69 L37.80,529.65 L38.71,529.59 L39.63,529.52 L40.54,529.44 L41.46,529.33 L42.38,529.19 L43.29,529.03 L44.21,528.83 L45.12,528.59 L46.04,528.31 L46.96,527.97 L47.87,527.58 L48.79,527.14 L49.70,526.63 L50.62,526.06 L51.54,525.41 L52.45,524.70 L53.37,523.92 L54.28,523.06 L55.20,522.14 L56.12,521.14 L57.03,520.08 L57.95,518.96 L58.86,517.77 L59.78,516.54 L60.70,515.25 L61.61,513.91 L62.53,512.54 L63.44,511.13 L64.36,509.69 L65.28,508.23 L66.19,506.74 L67.11,505.24 L68.02,503.73 L68.94,502.21 L69.86,500.68 L70.77,499.15 L71.69,497.62 L72.60,496.09 L73.52,494.57 L74.44,493.06 L75.35,491.55 L76.27,490.06 L77.18,488.58 L78.10,487.11 L79.02,485.67 L79.93,484.23 L80.85,482.82 L81.76,481.43 L82.68,480.06 L83.60,478.72 L84.51,477.40 L85.43,476.10 L86.34,474.83 L87.26,473.58 L88.18,472.36 L89.09,471.17 L90.01,470.01 L90.92,468.87 L91.84,467.75 L92.76,466.67 L93.67,465.60 L94.59,464.56 L95.50,463.55 L96.42,462.55 L97.34,461.58 L98.25,460.63 L99.17,459.69 L100.08,458.77 L101.00,457.87 L101.92,456.98 L102.83,456.11 L103.75,455.26 L104.66,454.41 L105.58,453.58 L106.50,452.76 L107.41,451.95 L108.33,451.15 L109.24,450.36 L110.16,449.59 L111.08,448.82 L111.99,448.07 L112.91,447.32 L113.82,446.58 L114.74,445.86 L115.66,445.14 L116.57,444.43 L117.49,443.74 L118.40,443.05 L119.32,442.37 L120.24,441.70 L121.15,441.04 L122.07,440.39 L122.98,439.75 L123.90,439.12 L124.82,438.50 L125.73,437.89 L126.65,437.29 L127.56,436.70 L128.48,436.12 L129.40,435.56 L130.31,435.00 L131.23,434.46 L132.14,433.93 L133.06,433.42 L133.98,432.91 L134.89,432.42 L135.81,431.94 L136.72,431.48 L137.64,431.03 L138.56,430.59 L139.47,430.16 L140.39,429.75 L141.30,429.34 L142.22,428.95 L143.14,428.56 L144.05,428.19 L144.97,427.83 L145.88,427.47 L146.80,427.12 L147.72,426.78 L148.63,426.45 L149.55,426.12 L150.46,425.79 L151.38,425.48 L152.30,425.16 L153.21,424.85 L154.13,424.54 L155.04,424.24 L155.96,423.93 L156.88,423.63 L157.79,423.33 L158.71,423.03 L159.62,422.74 L160.54,422.44 L161.46,422.14 L162.37,421.85 L163.29,421.56 L164.20,421.26 L165.12,420.97 L166.04,420.68 L166.95,420.39 L167.87,420.10 L168.78,419.81 L169.70,419.52 L170.62,419.23 L171.53,418.95 L172.45,418.66 L173.36,418.38 L174.28,418.10 L175.20,417.81 L176.11,417.53 L177.03,417.25 L177.94,416.98 L178.86,416.70 L179.78,416.42 L180.69,416.15 L181.61,415.88 L182.52,415.61 L183.44,415.34 L184.36,415.07 L185.27,414.80 L186.19,414.54 L187.10,414.27 L188.02,414.01 L188.94,413.75 L189.85,413.49 L190.77,413.23 L191.68,412.97 L192.60,412.72 L193.52,412.47 L194.43,412.22 L195.35,411.97 L196.26,411.73 L197.18,411.49" stroke="#aeaef0" stroke-width="1.0"/>
<path d="M32.30,529.80 L33.22,529.79 L34.13,529.79 L35.05,529.78 L35.96,529.78 L36.88,529.77 L37.80,529.75 L38.71,529.74 L39.63,529.71 L40.54,529.68 L41.46,529.64 L42.38,529.59 L43.29,529.52 L44.21,529.44 L45.12,529.34 L46.04,529.22 L46.96,529.07 L47.87,528.89 L48.79,528.68 L49.70,528.43 L50.62,528.14 L51.54,527.80 L52.45,527.42 L53.37,526.99 L54.28,526.51 L55.20,525.97 L56.12,525.38 L57.03,524.73 L57.95,524.02 L58.86,523.26 L59.78,522.45 L60.70,521.59 L61.61,520.68 L62.53,519.73 L63.44,518.73 L64.36,517.70 L65.28,516.64 L66.19,515.55 L67.11,514.43 L68.02,513.30 L68.94,512.15 L69.86,510.99 L70.77,509.82 L71.69,508.64 L72.60,507.46 L73.52,506.27 L74.44,505.08 L75.35,503.89 L76.27,502.70 L77.18,501.51 L78.10,500.31 L79.02,499.12 L79.93,497.92 L80.85,496.72 L81.76,495.53 L82.68,494.34 L83.60,493.15 L84.51,491.97 L85.43,490.79 L86.34,489.63 L87.26,488.47 L88.18,487.33 L89.09,486.21 L90.01,485.11 L90.92,484.02 L91.84,482.96 L92.76,481.92 L93.67,480.90 L94.59,479.89 L95.50,478.91 L96.42,477.95 L97.34,477.01 L98.25,476.08 L99.17,475.17 L100.08,474.27 L101.00,473.39 L101.92,472.51 L102.83,471.64 L103.75,470.79 L104.66,469.94 L105.58,469.10 L106.50,468.27 L107.41,467.45 L108.33,466.64 L109.24,465.84 L110.16,465.05 L111.08,464.28 L111.99,463.52 L112.91,462.77 L113.82,462.03 L114.74,461.31 L115.66,460.60 L116.57,459.91 L117.49,459.23 L118.40,458.55 L119.32,457.90 L120.24,457.25 L121.15,456.61 L122.07,455.98 L122.98,455.35 L123.90,454.74 L124.82,454.13 L125.73,453.52 L126.65,452.93 L127.56,452.33 L128.48,451.74 L129.40,451.15 L130.31,450.57 L131.23,449.99 L132.14,449.41 L133.06,448.84 L133.98,448.27 L134.89,447.70 L135.81,447.14 L136.72,446.58 L137.64,446.03 L138.56,445.48 L139.47,444.93 L140.39,444.39 L141.30,443.86 L142.22,443.32 L143.14,442.79 L144.05,442.27 L144.97,441.75 L145.88,441.24 L146.80,440.73 L147.72,440.23 L148.63,439.73 L149.55,439.24 L150.46,438.76 L151.38,438.28 L152.30,437.81 L153.21,437.35 L154.13,436.89 L155.04,436.44 L155.96,436.00 L156.88,435.57 L157.79,435.14 L158.71,434.72 L159.62,434.30 L160.54,433.90 L161.46,433.50 L162.37,433.10 L163.29,432.71 L164.20,432.33 L165.12,431.95 L166.04,431.58 L166.95,431.21 L167.87,430.85 L168.78,430.50 L169.70,430.14 L170.62,429.79 L171.53,429.45 L172.45,429.11 L173.36,428.78 L174.28,428.45 L175.20,428.12 L176.11,427.80 L177.03,427.48 L177.94,427.17 L178.86,426.86 L179.78,426.56 L180.69,426.26 L181.61,425.97 L182.52,425.68 L183.44,425.40 L184.36,425.13 L185.27,424.86 L186.19,424.59 L187.10,424.33 L188.02,424.08 L188.94,423.83 L189.85,423.59 L190.77,423.35 L191.68,423.12 L192.60,422.89 L193.52,422.67 L194.43,422.46 L195.35,422.25 L196.26,422.04 L197.18,421.85" stroke="#8a8ae6" stroke-width="1.05"/>
<path d="M32.30,529.80 L33.22,529.80 L34.13,529.80 L35.05,529.80 L35.96,529.80 L36.88,529.79 L37.80,529.79 L38.71,529.79 L39.63,529.78 L40.54,529.77 L41.46,529.76 L42.38,529.75 L43.29,529.73 L44.21,529.70 L45.12,529.67 L46.04,529.63 L46.96,529.58 L47.87,529.52 L48.79,529.45 L49.70,529.36 L50.62,529.26 L51.54,529.13 L52.45,528.99 L53.37,528.83 L54.28,528.64 L55.20,528.43 L56.12,528.20 L57.03,527.94 L57.95,527.66 L58.86,527.35 L59.78,527.26 L60.70,526.80 L61.61,526.57 L62.53,525.76 L63.44,525.76 L64.36,524.94 L65.28,524.29 L66.19,524.00 L67.11,523.34 L68.02,523.10 L68.94,522.28 L69.86,521.89 L70.77,521.42 L71.69,521.05 L72.60,520.17 L73.52,519.91 L74.44,519.23 L75.35,518.89 L76.27,518.13 L77.18,517.44 L78.10,517.03 L79.02,516.43 L79.93,515.93 L80.85,515.23 L81.76,514.58 L82.68,513.78 L83.60,513.70 L84.51,512.87 L85.43,512.49 L86.34,511.35 L87.26,511.02 L88.18,510.22 L89.09,509.26 L90.01,508.79 L90.92,507.98 L91.84,507.37 L92.76,506.93 L93.67,506.00 L94.59,505.59 L95.50,504.79 L96.42,504.32 L97.34,503.13 L98.25,502.90 L99.17,502.33 L100.08,501.32 L101.00,500.71 L101.92,500.06 L102.83,499.47 L103.75,498.84 L104.66,498.17 L105.58,497.24 L106.50,496.71 L107.41,495.92 L108.33,495.65 L109.24,494.73 L110.16,493.85 L111.08,493.15 L111.99,492.38 L112.91,491.96 L113.82,491.34 L114.74,490.42 L115.66,489.90 L116.57,489.18 L117.49,488.61 L118.40,487.85 L119.32,487.26 L120.24,486.58 L121.15,485.91 L122.07,485.10 L122.98,484.43 L123.90,483.54 L124.82,483.09 L125.73,482.70 L126.65,482.07 L127.56,481.16 L128.48,480.53 L129.40,479.83 L130.31,479.29 L131.23,478.66 L132.14,478.15 L133.06,477.75 L133.98,477.01 L134.89,476.05 L135.81,475.64 L136.72,475.25 L137.64,474.60 L138.56,474.01 L139.47,473.40 L140.39,472.78 L141.30,472.51 L142.22,471.81 L143.14,471.01 L144.05,470.90 L144.97,470.25 L145.88,469.75 L146.80,469.14 L147.72,468.37 L148.63,468.11 L149.55,467.63 L150.46,466.97 L151.38,466.74 L152.30,466.37 L153.21,465.64 L154.13,465.13 L155.04,464.83 L155.96,464.27 L156.88,463.79 L157.79,463.39 L158.71,462.86 L159.62,462.54 L160.54,462.07 L161.46,461.87 L162.37,460.96 L163.29,460.46 L164.20,460.32 L165.12,460.02 L166.04,459.07 L166.95,458.62 L167.87,458.31 L168.78,458.36 L169.70,457.56 L170.62,457.35 L171.53,456.82 L172.45,456.39 L173.36,455.93 L174.28,455.21 L175.20,455.18 L176.11,454.60 L177.03,454.13 L177.94,453.82 L178.86,453.41 L179.78,453.13 L180.69,452.60 L181.61,452.26 L182.52,451.73 L183.44,451.17 L184.36,450.80 L185.27,450.62 L186.19,450.24 L187.10,449.61 L188.02,449.12 L188.94,449.14 L189.85,448.74 L190.77,447.98 L191.68,447.83 L192.60,447.32 L193.52,446.98 L194.43,446.36 L195.35,446.48 L196.26,446.05 L197.18,445.62" stroke="#6058dc" stroke-width="1.1"/>
<path d="M32.30,529.80 L33.22,529.80 L34.13,529.80 L35.05,529.80 L35.96,529.80 L36.88,529.79 L37.80,529.79 L38.71,529.79 L39.63,529.78 L40.54,529.77 L41.46,529.77 L42.38,529.75 L43.29,529.74 L44.21,529.71 L45.12,529.69 L46.04,529.65 L46.96,529.61 L47.87,529.56 L48.79,529.49 L49.70,529.42 L50.62,529.32 L51.54,529.22 L52.45,529.09 L53.37,528.95 L54.28,528.79 L55.20,528.60 L56.12,528.39 L57.03,528.17 L57.95,527.91 L58.86,527.64 L59.78,527.34 L60.70,527.17 L61.61,526.40 L62.53,526.29 L63.44,525.88 L64.36,525.83 L65.28,525.09 L66.19,524.85 L67.11,524.11 L68.02,523.57 L68.94,523.17 L69.86,523.20 L70.77,522.47 L71.69,521.99 L72.60,521.38 L73.52,520.57 L74.44,520.48 L75.35,519.52 L76.27,518.97 L77.18,518.84 L78.10,518.38 L79.02,517.54 L79.93,517.23 L80.85,516.19 L81.76,516.16 L82.68,516.22 L83.60,515.04 L84.51,514.27 L85.43,513.99 L86.34,513.71 L87.26,512.51 L88.18,512.62 L89.09,511.67 L90.01,511.17 L90.92,510.55 L91.84,509.83 L92.76,508.97 L93.67,508.47 L94.59,507.99 L95.50,507.36 L96.42,506.56 L97.34,506.27 L98.25,505.35 L99.17,505.30 L100.08,504.75 L101.00,504.03 L101.92,502.90 L102.83,502.82 L103.75,502.05 L104.66,501.82 L105.58,500.88 L106.50,500.56 L107.41,499.68 L108.33,499.13 L109.24,498.50 L110.16,498.11 L111.08,497.34 L111.99,497.16 L112.91,495.76 L113.82,495.52 L114.74,494.82 L115.66,494.01 L116.57,493.52 L117.49,493.39 L118.40,492.46 L119.32,492.24 L120.24,492.04 L121.15,490.85 L122.07,490.14 L122.98,489.93 L123.90,489.11 L124.82,489.77 L125.73,488.04 L126.65,487.88 L127.56,487.57 L128.48,486.62 L129.40,486.25 L130.31,485.76 L131.23,485.09 L132.14,485.21 L133.06,484.70 L133.98,483.87 L134.89,483.97 L135.81,483.01 L136.72,482.67 L137.64,482.39 L138.56,482.02 L139.47,482.15 L140.39,481.52 L141.30,480.85 L142.22,481.05 L143.14,480.61 L144.05,480.43 L144.97,479.81 L145.88,479.95 L146.80,479.09 L147.72,478.65 L148.63,478.59 L149.55,477.72 L150.46,478.34 L151.38,477.85 L152.30,478.17 L153.21,477.41 L154.13,476.98 L155.04,476.74 L155.96,476.23 L156.88,476.19 L157.79,475.75 L158.71,475.12 L159.62,474.98 L160.54,474.85 L161.46,474.93 L162.37,474.37 L163.29,474.26 L164.20,474.25 L165.12,473.63 L166.04,473.50 L166.95,473.06 L167.87,472.29 L168.78,472.13 L169.70,472.34 L170.62,472.02 L171.53,471.81 L172.45,470.93 L173.36,471.34 L174.28,471.05 L175.20,470.59 L176.11,469.58 L177.03,469.38 L177.94,469.84 L178.86,469.01 L179.78,469.20 L180.69,469.01 L181.61,468.71 L182.52,468.82 L183.44,467.95 L184.36,467.83 L185.27,467.16 L186.19,467.43 L187.10,467.73 L188.02,466.91 L188.94,466.25 L189.85,466.87 L190.77,466.06 L191.68,466.22 L192.60,465.46 L193.52,465.37 L194.43,464.63 L195.35,464.98 L196.26,464.68 L197.18,464.73" stroke="#3c34c6" stroke-width="1.3"/>
<path d="M32.30,529.80 L33.22,529.80 L34.13,529.80 L35.05,529.80 L35.96,529.80 L36.88,529.80 L37.80,529.80 L38.71,529.80 L39.63,529.80 L40.54,529.80 L41.46,529.80 L42.38,529.80 L43.29,529.80 L44.21,529.80 L45.12,529.80 L46.04,529.80 L46.96,529.80 L47.87,529.80 L48.79,529.80 L49.70,529.80 L50.62,529.80 L51.54,529.80 L52.45,529.80 L53.37,529.80 L54.28,529.80 L55.20,529.80 L56.12,529.80 L57.03,529.80 L57.95,529.80 L58.86,529.80 L59.78,529.80 L60.70,529.80 L61.61,529.80 L62.53,529.80 L63.44,529.80 L64.36,529.79 L65.28,529.79 L66.19,529.79 L67.11,529.78 L68.02,529.78 L68.94,529.77 L69.86,529.76 L70.77,529.75 L71.69,529.73 L72.60,529.71 L73.52,529.69 L74.44,529.66 L75.35,529.63 L76.27,529.59 L77.18,529.54 L78.10,529.49 L79.02,529.43 L79.93,529.36 L80.85,529.28 L81.76,529.19 L82.68,529.10 L83.60,528.99 L84.51,528.87 L85.43,528.74 L86.34,528.61 L87.26,528.46 L88.18,528.30 L89.09,528.14 L90.01,527.96 L90.92,527.78 L91.84,527.59 L92.76,527.39 L93.67,527.04 L94.59,527.13 L95.50,526.70 L96.42,526.52 L97.34,525.94 L98.25,526.47 L99.17,525.85 L100.08,525.61 L101.00,525.56 L101.92,525.00 L102.83,524.79 L103.75,524.71 L104.66,524.32 L105.58,524.50 L106.50,523.77 L107.41,524.12 L108.33,523.99 L109.24,524.00 L110.16,523.13 L111.08,523.15 L111.99,522.70 L112.91,522.71 L113.82,522.48 L114.74,522.65 L115.66,522.50 L116.57,521.83 L117.49,521.66 L118.40,521.16 L119.32,521.73 L120.24,520.99 L121.15,520.91 L122.07,520.63 L122.98,520.84 L123.90,520.92 L124.82,520.50 L125.73,519.64 L126.65,520.21 L127.56,519.61 L128.48,519.71 L129.40,519.33 L130.31,519.13 L131.23,518.49 L132.14,518.05 L133.06,518.22 L133.98,518.27 L134.89,518.13 L135.81,517.78 L136.72,517.79 L137.64,517.36 L138.56,517.42 L139.47,517.44 L140.39,516.50 L141.30,516.70 L142.22,516.16 L143.14,516.38 L144.05,516.32 L144.97,515.65 L145.88,515.36 L146.80,515.39 L147.72,515.49 L148.63,514.94 L149.55,515.17 L150.46,514.77 L151.38,514.72 L152.30,514.06 L153.21,513.90 L154.13,514.06 L155.04,513.77 L155.96,514.16 L156.88,513.65 L157.79,513.01 L158.71,513.00 L159.62,513.19 L160.54,512.98 L161.46,513.20 L162.37,512.25 L163.29,512.26 L164.20,512.37 L165.12,511.84 L166.04,511.40 L166.95,511.72 L167.87,511.61 L168.78,510.97 L169.70,511.10 L170.62,511.29 L171.53,510.71 L172.45,510.58 L173.36,511.15 L174.28,510.65 L175.20,510.18 L176.11,510.10 L177.03,509.66 L177.94,509.71 L178.86,509.73 L179.78,509.59 L180.69,509.73 L181.61,509.76 L182.52,508.79 L183.44,509.30 L184.36,508.68 L185.27,509.15 L186.19,508.60 L187.10,508.43 L188.02,508.31 L188.94,508.35 L189.85,507.93 L190.77,508.47 L191.68,507.61 L192.60,507.51 L193.52,507.89 L194.43,507.60 L195.35,507.49 L196.26,507.64 L197.18,506.94" stroke="#2c2696" stroke-width="1.3"/>
<path d="M32.30,529.30 L33.22,529.30 L34.13,529.30 L35.05,529.30 L35.96,529.30 L36.88,529.30 L37.80,529.30 L38.71,529.30 L39.63,529.30 L40.54,529.30 L41.46,529.30 L42.38,529.30 L43.29,529.30 L44.21,529.30 L45.12,529.30 L46.04,529.30 L46.96,529.30 L47.87,529.30 L48.79,529.30 L49.70,529.30 L50.62,529.30 L51.54,529.30 L52.45,529.30 L53.37,529.30 L54.28,529.30 L55.20,529.30 L56.12,529.30 L57.03,529.30 L57.95,529.30 L58.86,529.30 L59.78,529.30 L60.70,529.30 L61.61,529.30 L62.53,529.30 L63.44,529.30 L64.36,529.30 L65.28,529.30 L66.19,529.30 L67.11,529.30 L68.02,529.30 L68.94,529.30 L69.86,529.30 L70.77,529.30 L71.69,529.30 L72.60,529.30 L73.52,529.30 L74.44,529.30 L75.35,529.30 L76.27,529.30 L77.18,529.30 L78.10,529.30 L79.02,529.30 L79.93,529.30 L80.85,529.30 L81.76,529.30 L82.68,529.30 L83.60,529.30 L84.51,529.30 L85.43,529.30 L86.34,529.30 L87.26,529.30 L88.18,529.30 L89.09,529.30 L90.01,529.30 L90.92,529.30 L91.84,529.30 L92.76,529.30 L93.67,529.30 L94.59,529.30 L95.50,529.30 L96.42,529.30 L97.34,529.30 L98.25,529.30 L99.17,529.30 L100.08,529.30 L101.00,529.30 L101.92,529.30 L102.83,529.30 L103.75,529.30 L104.66,529.30 L105.58,529.30 L106.50,529.30 L107.41,529.30 L108.33,529.30 L109.24,529.30 L110.16,529.30 L111.08,529.30 L111.99,529.30 L112.91,529.30 L113.82,529.30 L114.74,529.30 L115.66,529.30 L116.57,529.30 L117.49,529.30 L118.40,529.30 L119.32,529.30 L120.24,529.30 L121.15,529.30 L122.07,529.30 L122.98,529.30 L123.90,529.30 L124.82,529.30 L125.73,529.30 L126.65,529.30 L127.56,529.30 L128.48,529.30 L129.40,529.30 L130.31,529.30 L131.23,529.30 L132.14,529.30 L133.06,529.30 L133.98,529.30 L134.89,529.30 L135.81,529.30 L136.72,529.30 L137.64,529.30 L138.56,529.30 L139.47,529.30 L140.39,529.30 L141.30,529.30 L142.22,529.30 L143.14,529.30 L144.05,529.30 L144.97,529.30 L145.88,529.30 L146.80,529.30 L147.72,529.30 L148.63,529.30 L149.55,529.30 L150.46,529.30 L151.38,529.30 L152.30,529.30 L153.21,529.30 L154.13,529.30 L155.04,529.30 L155.96,529.30 L156.88,529.30 L157.79,529.30 L158.71,529.30 L159.62,529.30 L160.54,529.30 L161.46,529.30 L162.37,529.30 L163.29,529.30 L164.20,529.30 L165.12,529.30 L166.04,529.30 L166.95,529.30 L167.87,529.30 L168.78,529.30 L169.70,529.30 L170.62,529.30 L171.53,529.30 L172.45,529.30 L173.36,529.30 L174.28,529.30 L175.20,529.30 L176.11,529.30 L177.03,529.30 L177.94,529.30 L178.86,529.30 L179.78,529.30 L180.69,529.30 L181.61,529.30 L182.52,529.30 L183.44,529.30 L184.36,529.30 L185.27,529.30 L186.19,529.30 L187.10,529.30 L188.02,529.30 L188.94,529.30 L189.85,529.30 L190.77,529.30 L191.68,529.30 L192.60,529.30 L193.52,529.30 L194.43,529.30 L195.35,529.30 L196.26,529.30 L197.18,529.30" stroke="#1c1466" stroke-width="1.4"/>
</g>
<rect x="32.3" y="379.3" width="192.50" height="150.50" fill="none" stroke="#2a2a2a" stroke-width="1"/>
<text x="27.60" y="532.80" font-size="8.60" text-anchor="end" fill="#222">0.0</text>
<text x="27.60" y="507.72" font-size="8.60" text-anchor="end" fill="#222">0.2</text>
<text x="27.60" y="482.64" font-size="8.60" text-anchor="end" fill="#222">0.4</text>
<text x="27.60" y="457.56" font-size="8.60" text-anchor="end" fill="#222">0.6</text>
<text x="27.60" y="432.48" font-size="8.60" text-anchor="end" fill="#222">0.8</text>
<text x="27.60" y="407.40" font-size="8.60" text-anchor="end" fill="#222">1.0</text>
<text x="27.60" y="382.32" font-size="8.60" text-anchor="end" fill="#222">1.2</text>
<text x="32.30" y="540.80" font-size="8.60" text-anchor="middle" fill="#222">0</text>
<text x="55.20" y="540.80" font-size="8.60" text-anchor="middle" fill="#222">5</text>
<text x="78.10" y="540.80" font-size="8.60" text-anchor="middle" fill="#222">10</text>
<text x="101.00" y="540.80" font-size="8.60" text-anchor="middle" fill="#222">15</text>
<text x="123.90" y="540.80" font-size="8.60" text-anchor="middle" fill="#222">20</text>
<text x="146.80" y="540.80" font-size="8.60" text-anchor="middle" fill="#222">25</text>
<text x="169.70" y="540.80" font-size="8.60" text-anchor="middle" fill="#222">30</text>
<text x="192.60" y="540.80" font-size="8.60" text-anchor="middle" fill="#222">35</text>
<text x="215.50" y="540.80" font-size="8.60" text-anchor="middle" fill="#222">40</text>
<path d="M32.3,529.80h3.5 M32.3,504.72h3.5 M32.3,479.64h3.5 M32.3,454.56h3.5 M32.3,429.48h3.5 M32.3,404.40h3.5 M32.3,379.32h3.5 M32.30,529.8v-3.5 M55.20,529.8v-3.5 M78.10,529.8v-3.5 M101.00,529.8v-3.5 M123.90,529.8v-3.5 M146.80,529.8v-3.5 M169.70,529.8v-3.5 M192.60,529.8v-3.5 M215.50,529.8v-3.5" stroke="#2a2a2a" stroke-width="1" fill="none"/>
<text x="130.60" y="554.90" font-size="10.20" text-anchor="middle" fill="#222" textLength="35.70" lengthAdjust="spacingAndGlyphs">Time (s)</text>
<text transform="translate(9.8 463.1) rotate(-90)" text-anchor="middle" font-size="11.2" fill="#222" textLength="42" lengthAdjust="spacingAndGlyphs">|<tspan font-style="italic">I</tspan><tspan font-size="7.6" dy="2.2">DS</tspan><tspan dy="-2.2"> | (nA)</tspan></text>
<text x="103.5" y="393.8" font-size="10" fill="#222" textLength="116" lengthAdjust="spacingAndGlyphs">Light Intensity (nW cm<tspan font-size="6.5" dy="-4">-2</tspan><tspan dy="4">)</tspan></text>
<text x="200.10" y="408.40" font-size="8.80" fill="#222">11.70</text>
<text x="200.10" y="417.20" font-size="8.80" fill="#222">7.30</text>
<text x="200.10" y="424.90" font-size="8.80" fill="#222">4.38</text>
<text x="200.10" y="448.20" font-size="8.80" fill="#222">1.46</text>
<text x="200.10" y="467.00" font-size="8.80" fill="#222">0.73</text>
<text x="200.10" y="510.20" font-size="8.80" fill="#222">0.146</text>
<text x="200.10" y="524.20" font-size="8.80" fill="#222">Dark</text>
<line x1="59.1" y1="457.8" x2="99.5" y2="423.0" stroke="#111" stroke-width="1.3"/>
<polygon points="102.6,420.3 95.8,422.9 99.4,427.0" fill="#111"/>
<text transform="translate(52.5 450.5) rotate(-43)" font-size="10" fill="#222" textLength="50" lengthAdjust="spacingAndGlyphs">Adaptation</text>
<g fill="none" stroke-width="1.2">
<path d="M278.00,520.53 L278.80,520.53 L279.60,520.53 L280.39,520.53 L281.19,520.52 L281.99,520.52 L282.78,520.52 L283.58,520.52 L284.38,520.52 L285.17,520.52 L285.97,520.52 L286.77,520.51 L287.56,520.51 L288.36,520.51 L289.16,520.51 L289.95,520.51 L290.75,520.51 L291.55,520.51 L292.34,520.51 L293.14,520.51 L293.93,520.50 L294.73,520.50 L295.53,520.50 L296.32,520.50 L297.12,520.50 L297.92,520.50 L298.71,520.50 L299.51,520.50 L300.31,520.50 L301.10,520.49 L301.90,520.49 L302.70,520.49 L303.49,520.49 L304.29,520.49 L305.09,520.49 L305.88,520.49 L306.68,520.49 L307.48,520.49 L308.27,520.48 L309.07,520.48 L309.87,520.48 L310.66,520.48 L311.46,520.48 L312.26,520.48 L313.05,520.48 L313.85,520.48 L314.65,520.48 L315.44,520.48 L316.24,520.47 L317.04,520.47 L317.83,520.47 L318.63,520.47 L319.43,520.47 L320.22,520.47 L321.02,520.47 L321.82,520.47 L322.61,520.47 L323.41,520.47 L324.21,520.46 L325.00,520.46 L325.80,520.46 L326.59,520.46 L327.39,520.46 L328.19,520.46 L328.98,520.46 L329.78,520.46 L330.58,520.46 L331.37,520.46 L332.17,520.45 L332.97,520.45 L333.76,520.45 L334.56,520.45 L335.36,520.45 L336.15,520.45 L336.95,520.45 L337.75,520.45 L338.54,520.45 L339.34,520.45 L340.14,520.45 L340.93,520.44 L341.73,520.44 L342.53,520.44 L343.32,520.44 L344.12,520.44 L344.92,520.44 L345.71,520.44 L346.51,520.44 L347.31,520.44 L348.10,520.44 L348.90,520.43 L349.70,520.43 L350.49,520.43 L351.29,520.43 L352.09,520.43 L352.88,520.43 L353.68,520.43 L354.48,520.43 L355.27,520.43 L356.07,520.43 L356.87,520.42 L357.66,520.42 L358.46,520.42 L359.26,520.42 L360.05,520.42 L360.85,520.42 L361.64,520.42 L362.44,520.42 L363.24,520.42 L364.03,520.42 L364.83,520.41 L365.63,520.41 L366.42,520.41 L367.22,520.41 L368.02,520.41 L368.81,520.41 L369.61,520.41 L370.41,520.41 L371.20,520.41 L372.00,520.41 L372.80,520.40 L373.59,520.40 L374.39,520.40 L375.19,520.40 L375.98,520.40 L376.78,520.40 L377.58,520.40 L378.37,520.40 L379.17,520.40 L379.97,520.40 L380.76,520.39 L381.56,520.39 L382.36,520.39 L383.15,520.39 L383.95,520.39 L384.75,520.39 L385.54,520.39 L386.34,520.39 L387.14,520.39 L387.93,520.38 L388.73,520.38 L389.53,520.38 L390.32,520.38 L391.12,520.38 L391.92,520.38 L392.71,520.38 L393.51,520.38 L394.30,520.38 L395.10,520.38 L395.90,520.37 L396.69,520.37 L397.49,520.37 L398.29,520.37 L399.08,520.37 L399.88,520.37 L400.68,520.37 L401.47,520.37 L402.27,520.37 L403.07,520.36 L403.86,520.36 L404.66,520.36 L405.46,520.36 L406.25,520.36 L407.05,520.36 L407.85,520.36 L408.64,520.36 L409.44,520.36 L410.24,520.35 L411.03,520.35 L411.83,520.35 L412.63,520.35 L413.42,520.35 L414.22,520.35 L415.02,520.35 L415.81,520.35 L416.61,520.35 L417.41,520.34 L418.20,520.34 L419.00,520.34 L419.80,520.34 L420.59,520.34 L421.39,520.34 L422.19,520.34 L422.98,520.34 L423.78,520.34 L424.58,520.33 L425.37,520.33 L426.17,520.33 L426.96,520.33 L427.76,520.33 L428.56,520.33 L429.35,520.33 L430.15,520.33 L430.95,520.32 L431.74,520.32 L432.54,520.32 L433.34,520.32 L434.13,520.32 L434.93,520.32 L435.73,520.32 L436.52,520.32" stroke="#7b2ff0"/>
<path d="M278.00,520.78 L278.80,520.74 L279.60,520.69 L280.39,520.64 L281.19,520.59 L281.99,520.54 L282.78,520.49 L283.58,520.44 L284.38,520.39 L285.17,520.34 L285.97,520.28 L286.77,520.23 L287.56,520.18 L288.36,520.13 L289.16,520.07 L289.95,520.02 L290.75,519.97 L291.55,519.91 L292.34,519.86 L293.14,519.80 L293.93,519.75 L294.73,519.69 L295.53,519.64 L296.32,519.58 L297.12,519.53 L297.92,519.47 L298.71,519.41 L299.51,519.36 L300.31,519.30 L301.10,519.24 L301.90,519.18 L302.70,519.12 L303.49,519.07 L304.29,519.01 L305.09,518.95 L305.88,518.89 L306.68,518.83 L307.48,518.77 L308.27,518.71 L309.07,518.65 L309.87,518.59 L310.66,518.52 L311.46,518.46 L312.26,518.40 L313.05,518.34 L313.85,518.28 L314.65,518.21 L315.44,518.15 L316.24,518.09 L317.04,518.02 L317.83,517.96 L318.63,517.89 L319.43,517.83 L320.22,517.76 L321.02,517.70 L321.82,517.63 L322.61,517.57 L323.41,517.50 L324.21,517.43 L325.00,517.37 L325.80,517.30 L326.59,517.23 L327.39,517.16 L328.19,517.09 L328.98,517.02 L329.78,516.96 L330.58,516.89 L331.37,516.82 L332.17,516.75 L332.97,516.67 L333.76,516.60 L334.56,516.53 L335.36,516.46 L336.15,516.39 L336.95,516.32 L337.75,516.24 L338.54,516.17 L339.34,516.10 L340.14,516.02 L340.93,515.95 L341.73,515.87 L342.53,515.80 L343.32,515.72 L344.12,515.64 L344.92,515.57 L345.71,515.49 L346.51,515.41 L347.31,515.34 L348.10,515.26 L348.90,515.18 L349.70,515.10 L350.49,515.02 L351.29,514.94 L352.09,514.86 L352.88,514.78 L353.68,514.70 L354.48,514.62 L355.27,514.54 L356.07,514.45 L356.87,514.37 L357.66,514.29 L358.46,514.20 L359.26,514.12 L360.05,514.03 L360.85,513.95 L361.64,513.86 L362.44,513.78 L363.24,513.69 L364.03,513.60 L364.83,513.52 L365.63,513.43 L366.42,513.34 L367.22,513.25 L368.02,513.16 L368.81,513.07 L369.61,512.98 L370.41,512.89 L371.20,512.80 L372.00,512.71 L372.80,512.61 L373.59,512.52 L374.39,512.43 L375.19,512.33 L375.98,512.24 L376.78,512.14 L377.58,512.05 L378.37,511.95 L379.17,511.85 L379.97,511.76 L380.76,511.66 L381.56,511.56 L382.36,511.46 L383.15,511.36 L383.95,511.26 L384.75,511.16 L385.54,511.06 L386.34,510.96 L387.14,510.85 L387.93,510.75 L388.73,510.65 L389.53,510.54 L390.32,510.44 L391.12,510.33 L391.92,510.22 L392.71,510.12 L393.51,510.01 L394.30,509.90 L395.10,509.79 L395.90,509.68 L396.69,509.57 L397.49,509.46 L398.29,509.35 L399.08,509.24 L399.88,509.12 L400.68,509.01 L401.47,508.90 L402.27,508.78 L403.07,508.66 L403.86,508.55 L404.66,508.43 L405.46,508.31 L406.25,508.19 L407.05,508.07 L407.85,507.95 L408.64,507.83 L409.44,507.71 L410.24,507.59 L411.03,507.46 L411.83,507.34 L412.63,507.21 L413.42,507.09 L414.22,506.96 L415.02,506.83 L415.81,506.70 L416.61,506.57 L417.41,506.44 L418.20,506.31 L419.00,506.18 L419.80,506.05 L420.59,505.91 L421.39,505.78 L422.19,505.64 L422.98,505.51 L423.78,505.37 L424.58,505.23 L425.37,505.09 L426.17,504.95 L426.96,504.81 L427.76,504.67 L428.56,504.52 L429.35,504.38 L430.15,504.23 L430.95,504.09 L431.74,503.94 L432.54,503.79 L433.34,503.64 L434.13,503.49 L434.93,503.34 L435.73,503.19 L436.52,503.03" stroke="#9c3fd8"/>
<path d="M278.00,518.65 L278.80,517.93 L279.60,517.25 L280.39,516.60 L281.19,515.97 L281.99,515.36 L282.78,514.77 L283.58,514.19 L284.38,513.62 L285.17,513.07 L285.97,512.53 L286.77,511.99 L287.56,511.47 L288.36,510.95 L289.16,510.44 L289.95,509.94 L290.75,509.44 L291.55,508.96 L292.34,508.47 L293.14,508.00 L293.93,507.53 L294.73,507.06 L295.53,506.60 L296.32,506.15 L297.12,505.70 L297.92,505.25 L298.71,504.81 L299.51,504.38 L300.31,503.94 L301.10,503.51 L301.90,503.09 L302.70,502.67 L303.49,502.25 L304.29,501.84 L305.09,501.43 L305.88,501.02 L306.68,500.62 L307.48,500.22 L308.27,499.82 L309.07,499.43 L309.87,499.04 L310.66,498.65 L311.46,498.26 L312.26,497.88 L313.05,497.50 L313.85,497.13 L314.65,496.75 L315.44,496.38 L316.24,496.01 L317.04,495.64 L317.83,495.28 L318.63,494.92 L319.43,494.56 L320.22,494.20 L321.02,493.85 L321.82,493.49 L322.61,493.14 L323.41,492.80 L324.21,492.45 L325.00,492.11 L325.80,491.76 L326.59,491.42 L327.39,491.09 L328.19,490.75 L328.98,490.42 L329.78,490.08 L330.58,489.75 L331.37,489.43 L332.17,489.10 L332.97,488.78 L333.76,488.45 L334.56,488.13 L335.36,487.81 L336.15,487.49 L336.95,487.18 L337.75,486.86 L338.54,486.55 L339.34,486.24 L340.14,485.93 L340.93,485.62 L341.73,485.32 L342.53,485.01 L343.32,484.71 L344.12,484.41 L344.92,484.11 L345.71,483.81 L346.51,483.51 L347.31,483.21 L348.10,482.92 L348.90,482.63 L349.70,482.33 L350.49,482.04 L351.29,481.76 L352.09,481.47 L352.88,481.18 L353.68,480.90 L354.48,480.61 L355.27,480.33 L356.07,480.05 L356.87,479.77 L357.66,479.49 L358.46,479.21 L359.26,478.94 L360.05,478.66 L360.85,478.39 L361.64,478.12 L362.44,477.85 L363.24,477.58 L364.03,477.31 L364.83,477.04 L365.63,476.77 L366.42,476.51 L367.22,476.24 L368.02,475.98 L368.81,475.72 L369.61,475.46 L370.41,475.20 L371.20,474.94 L372.00,474.68 L372.80,474.42 L373.59,474.17 L374.39,473.91 L375.19,473.66 L375.98,473.41 L376.78,473.16 L377.58,472.90 L378.37,472.66 L379.17,472.41 L379.97,472.16 L380.76,471.91 L381.56,471.67 L382.36,471.42 L383.15,471.18 L383.95,470.93 L384.75,470.69 L385.54,470.45 L386.34,470.21 L387.14,469.97 L387.93,469.73 L388.73,469.50 L389.53,469.26 L390.32,469.02 L391.12,468.79 L391.92,468.56 L392.71,468.32 L393.51,468.09 L394.30,467.86 L395.10,467.63 L395.90,467.40 L396.69,467.17 L397.49,466.94 L398.29,466.71 L399.08,466.49 L399.88,466.26 L400.68,466.04 L401.47,465.81 L402.27,465.59 L403.07,465.37 L403.86,465.15 L404.66,464.93 L405.46,464.71 L406.25,464.49 L407.05,464.27 L407.85,464.05 L408.64,463.83 L409.44,463.62 L410.24,463.40 L411.03,463.19 L411.83,462.97 L412.63,462.76 L413.42,462.55 L414.22,462.33 L415.02,462.12 L415.81,461.91 L416.61,461.70 L417.41,461.49 L418.20,461.28 L419.00,461.08 L419.80,460.87 L420.59,460.66 L421.39,460.46 L422.19,460.25 L422.98,460.05 L423.78,459.84 L424.58,459.64 L425.37,459.44 L426.17,459.24 L426.96,459.03 L427.76,458.83 L428.56,458.63 L429.35,458.43 L430.15,458.24 L430.95,458.04 L431.74,457.84 L432.54,457.64 L433.34,457.45 L434.13,457.25 L434.93,457.06 L435.73,456.86 L436.52,456.67" stroke="#b444b8"/>
<path d="M278.00,513.07 L278.80,511.07 L279.60,509.27 L280.39,507.62 L281.19,506.08 L281.99,504.63 L282.78,503.26 L283.58,501.96 L284.38,500.72 L285.17,499.53 L285.97,498.38 L286.77,497.28 L287.56,496.22 L288.36,495.19 L289.16,494.19 L289.95,493.22 L290.75,492.28 L291.55,491.37 L292.34,490.48 L293.14,489.61 L293.93,488.77 L294.73,487.94 L295.53,487.13 L296.32,486.35 L297.12,485.57 L297.92,484.82 L298.71,484.08 L299.51,483.36 L300.31,482.65 L301.10,481.95 L301.90,481.27 L302.70,480.60 L303.49,479.94 L304.29,479.29 L305.09,478.66 L305.88,478.03 L306.68,477.42 L307.48,476.81 L308.27,476.22 L309.07,475.63 L309.87,475.06 L310.66,474.49 L311.46,473.93 L312.26,473.38 L313.05,472.84 L313.85,472.31 L314.65,471.78 L315.44,471.26 L316.24,470.75 L317.04,470.24 L317.83,469.74 L318.63,469.25 L319.43,468.76 L320.22,468.28 L321.02,467.81 L321.82,467.34 L322.61,466.88 L323.41,466.42 L324.21,465.97 L325.00,465.53 L325.80,465.09 L326.59,464.65 L327.39,464.22 L328.19,463.80 L328.98,463.38 L329.78,462.96 L330.58,462.55 L331.37,462.15 L332.17,461.75 L332.97,461.35 L333.76,460.95 L334.56,460.57 L335.36,460.18 L336.15,459.80 L336.95,459.42 L337.75,459.05 L338.54,458.68 L339.34,458.31 L340.14,457.95 L340.93,457.59 L341.73,457.24 L342.53,456.89 L343.32,456.54 L344.12,456.19 L344.92,455.85 L345.71,455.51 L346.51,455.18 L347.31,454.84 L348.10,454.51 L348.90,454.19 L349.70,453.86 L350.49,453.54 L351.29,453.22 L352.09,452.91 L352.88,452.60 L353.68,452.29 L354.48,451.98 L355.27,451.68 L356.07,451.37 L356.87,451.07 L357.66,450.78 L358.46,450.48 L359.26,450.19 L360.05,449.90 L360.85,449.61 L361.64,449.33 L362.44,449.05 L363.24,448.77 L364.03,448.49 L364.83,448.21 L365.63,447.94 L366.42,447.67 L367.22,447.40 L368.02,447.13 L368.81,446.86 L369.61,446.60 L370.41,446.34 L371.20,446.08 L372.00,445.82 L372.80,445.57 L373.59,445.31 L374.39,445.06 L375.19,444.81 L375.98,444.56 L376.78,444.31 L377.58,444.07 L378.37,443.83 L379.17,443.58 L379.97,443.34 L380.76,443.11 L381.56,442.87 L382.36,442.63 L383.15,442.40 L383.95,442.17 L384.75,441.94 L385.54,441.71 L386.34,441.48 L387.14,441.26 L387.93,441.03 L388.73,440.81 L389.53,440.59 L390.32,440.37 L391.12,440.15 L391.92,439.94 L392.71,439.72 L393.51,439.51 L394.30,439.29 L395.10,439.08 L395.90,438.87 L396.69,438.66 L397.49,438.46 L398.29,438.25 L399.08,438.04 L399.88,437.84 L400.68,437.64 L401.47,437.44 L402.27,437.24 L403.07,437.04 L403.86,436.84 L404.66,436.65 L405.46,436.45 L406.25,436.26 L407.05,436.06 L407.85,435.87 L408.64,435.68 L409.44,435.49 L410.24,435.30 L411.03,435.12 L411.83,434.93 L412.63,434.74 L413.42,434.56 L414.22,434.38 L415.02,434.20 L415.81,434.01 L416.61,433.83 L417.41,433.66 L418.20,433.48 L419.00,433.30 L419.80,433.12 L420.59,432.95 L421.39,432.78 L422.19,432.60 L422.98,432.43 L423.78,432.26 L424.58,432.09 L425.37,431.92 L426.17,431.75 L426.96,431.58 L427.76,431.42 L428.56,431.25 L429.35,431.09 L430.15,430.92 L430.95,430.76 L431.74,430.60 L432.54,430.43 L433.34,430.27 L434.13,430.11 L434.93,429.95 L435.73,429.80 L436.52,429.64" stroke="#d0357e"/>
<path d="M278.00,507.89 L278.80,504.58 L279.60,501.64 L280.39,498.99 L281.19,496.55 L281.99,494.29 L282.78,492.18 L283.58,490.21 L284.38,488.34 L285.17,486.58 L285.97,484.90 L286.77,483.31 L287.56,481.79 L288.36,480.34 L289.16,478.94 L289.95,477.60 L290.75,476.32 L291.55,475.08 L292.34,473.89 L293.14,472.74 L293.93,471.62 L294.73,470.55 L295.53,469.50 L296.32,468.49 L297.12,467.51 L297.92,466.56 L298.71,465.64 L299.51,464.74 L300.31,463.87 L301.10,463.02 L301.90,462.19 L302.70,461.39 L303.49,460.60 L304.29,459.84 L305.09,459.09 L305.88,458.36 L306.68,457.65 L307.48,456.95 L308.27,456.27 L309.07,455.61 L309.87,454.95 L310.66,454.32 L311.46,453.69 L312.26,453.08 L313.05,452.48 L313.85,451.90 L314.65,451.32 L315.44,450.76 L316.24,450.21 L317.04,449.67 L317.83,449.13 L318.63,448.61 L319.43,448.10 L320.22,447.60 L321.02,447.10 L321.82,446.61 L322.61,446.14 L323.41,445.67 L324.21,445.21 L325.00,444.75 L325.80,444.31 L326.59,443.87 L327.39,443.44 L328.19,443.01 L328.98,442.59 L329.78,442.18 L330.58,441.78 L331.37,441.38 L332.17,440.99 L332.97,440.60 L333.76,440.22 L334.56,439.84 L335.36,439.47 L336.15,439.11 L336.95,438.75 L337.75,438.39 L338.54,438.04 L339.34,437.70 L340.14,437.36 L340.93,437.02 L341.73,436.69 L342.53,436.36 L343.32,436.04 L344.12,435.72 L344.92,435.41 L345.71,435.10 L346.51,434.79 L347.31,434.49 L348.10,434.19 L348.90,433.90 L349.70,433.60 L350.49,433.32 L351.29,433.03 L352.09,432.75 L352.88,432.48 L353.68,432.20 L354.48,431.93 L355.27,431.66 L356.07,431.40 L356.87,431.14 L357.66,430.88 L358.46,430.62 L359.26,430.37 L360.05,430.12 L360.85,429.87 L361.64,429.63 L362.44,429.39 L363.24,429.15 L364.03,428.91 L364.83,428.68 L365.63,428.44 L366.42,428.22 L367.22,427.99 L368.02,427.76 L368.81,427.54 L369.61,427.32 L370.41,427.10 L371.20,426.89 L372.00,426.68 L372.80,426.46 L373.59,426.26 L374.39,426.05 L375.19,425.84 L375.98,425.64 L376.78,425.44 L377.58,425.24 L378.37,425.04 L379.17,424.85 L379.97,424.65 L380.76,424.46 L381.56,424.27 L382.36,424.09 L383.15,423.90 L383.95,423.71 L384.75,423.53 L385.54,423.35 L386.34,423.17 L387.14,422.99 L387.93,422.82 L388.73,422.64 L389.53,422.47 L390.32,422.30 L391.12,422.12 L391.92,421.96 L392.71,421.79 L393.51,421.62 L394.30,421.46 L395.10,421.29 L395.90,421.13 L396.69,420.97 L397.49,420.81 L398.29,420.65 L399.08,420.50 L399.88,420.34 L400.68,420.19 L401.47,420.04 L402.27,419.88 L403.07,419.73 L403.86,419.59 L404.66,419.44 L405.46,419.29 L406.25,419.14 L407.05,419.00 L407.85,418.86 L408.64,418.71 L409.44,418.57 L410.24,418.43 L411.03,418.29 L411.83,418.16 L412.63,418.02 L413.42,417.88 L414.22,417.75 L415.02,417.62 L415.81,417.48 L416.61,417.35 L417.41,417.22 L418.20,417.09 L419.00,416.96 L419.80,416.83 L420.59,416.71 L421.39,416.58 L422.19,416.45 L422.98,416.33 L423.78,416.21 L424.58,416.08 L425.37,415.96 L426.17,415.84 L426.96,415.72 L427.76,415.60 L428.56,415.48 L429.35,415.37 L430.15,415.25 L430.95,415.13 L431.74,415.02 L432.54,414.90 L433.34,414.79 L434.13,414.68 L434.93,414.56 L435.73,414.45 L436.52,414.34" stroke="#d8343e"/>
<path d="M278.00,502.71 L278.80,498.13 L279.60,494.13 L280.39,490.55 L281.19,487.32 L281.99,484.36 L282.78,481.64 L283.58,479.12 L284.38,476.77 L285.17,474.58 L285.97,472.51 L286.77,470.57 L287.56,468.73 L288.36,466.99 L289.16,465.34 L289.95,463.77 L290.75,462.28 L291.55,460.85 L292.34,459.49 L293.14,458.18 L293.93,456.92 L294.73,455.72 L295.53,454.56 L296.32,453.45 L297.12,452.38 L297.92,451.35 L298.71,450.35 L299.51,449.39 L300.31,448.45 L301.10,447.55 L301.90,446.68 L302.70,445.84 L303.49,445.02 L304.29,444.22 L305.09,443.45 L305.88,442.70 L306.68,441.97 L307.48,441.27 L308.27,440.58 L309.07,439.91 L309.87,439.26 L310.66,438.62 L311.46,438.00 L312.26,437.40 L313.05,436.81 L313.85,436.23 L314.65,435.67 L315.44,435.12 L316.24,434.59 L317.04,434.06 L317.83,433.55 L318.63,433.05 L319.43,432.56 L320.22,432.08 L321.02,431.62 L321.82,431.16 L322.61,430.71 L323.41,430.27 L324.21,429.84 L325.00,429.41 L325.80,429.00 L326.59,428.59 L327.39,428.19 L328.19,427.80 L328.98,427.42 L329.78,427.04 L330.58,426.67 L331.37,426.31 L332.17,425.95 L332.97,425.60 L333.76,425.26 L334.56,424.92 L335.36,424.59 L336.15,424.26 L336.95,423.94 L337.75,423.62 L338.54,423.31 L339.34,423.01 L340.14,422.71 L340.93,422.41 L341.73,422.12 L342.53,421.83 L343.32,421.55 L344.12,421.27 L344.92,421.00 L345.71,420.73 L346.51,420.46 L347.31,420.20 L348.10,419.94 L348.90,419.69 L349.70,419.44 L350.49,419.19 L351.29,418.95 L352.09,418.71 L352.88,418.47 L353.68,418.24 L354.48,418.01 L355.27,417.78 L356.07,417.56 L356.87,417.34 L357.66,417.12 L358.46,416.90 L359.26,416.69 L360.05,416.48 L360.85,416.27 L361.64,416.07 L362.44,415.87 L363.24,415.67 L364.03,415.47 L364.83,415.28 L365.63,415.08 L366.42,414.89 L367.22,414.71 L368.02,414.52 L368.81,414.34 L369.61,414.16 L370.41,413.98 L371.20,413.80 L372.00,413.63 L372.80,413.46 L373.59,413.28 L374.39,413.12 L375.19,412.95 L375.98,412.78 L376.78,412.62 L377.58,412.46 L378.37,412.30 L379.17,412.14 L379.97,411.99 L380.76,411.83 L381.56,411.68 L382.36,411.53 L383.15,411.38 L383.95,411.23 L384.75,411.09 L385.54,410.94 L386.34,410.80 L387.14,410.65 L387.93,410.51 L388.73,410.38 L389.53,410.24 L390.32,410.10 L391.12,409.97 L391.92,409.83 L392.71,409.70 L393.51,409.57 L394.30,409.44 L395.10,409.31 L395.90,409.18 L396.69,409.06 L397.49,408.93 L398.29,408.81 L399.08,408.69 L399.88,408.57 L400.68,408.45 L401.47,408.33 L402.27,408.21 L403.07,408.09 L403.86,407.98 L404.66,407.86 L405.46,407.75 L406.25,407.63 L407.05,407.52 L407.85,407.41 L408.64,407.30 L409.44,407.19 L410.24,407.08 L411.03,406.98 L411.83,406.87 L412.63,406.77 L413.42,406.66 L414.22,406.56 L415.02,406.46 L415.81,406.35 L416.61,406.25 L417.41,406.15 L418.20,406.05 L419.00,405.96 L419.80,405.86 L420.59,405.76 L421.39,405.67 L422.19,405.57 L422.98,405.48 L423.78,405.38 L424.58,405.29 L425.37,405.20 L426.17,405.11 L426.96,405.02 L427.76,404.93 L428.56,404.84 L429.35,404.75 L430.15,404.66 L430.95,404.57 L431.74,404.49 L432.54,404.40 L433.34,404.31 L434.13,404.23 L434.93,404.15 L435.73,404.06 L436.52,403.98" stroke="#e2542a"/>
<path d="M278.00,498.74 L278.80,493.02 L279.60,488.06 L280.39,483.67 L281.19,479.73 L281.99,476.17 L282.78,472.92 L283.58,469.94 L284.38,467.18 L285.17,464.63 L285.97,462.26 L286.77,460.04 L287.56,457.96 L288.36,456.00 L289.16,454.16 L289.95,452.42 L290.75,450.78 L291.55,449.22 L292.34,447.73 L293.14,446.32 L293.93,444.98 L294.73,443.70 L295.53,442.47 L296.32,441.30 L297.12,440.18 L297.92,439.10 L298.71,438.06 L299.51,437.07 L300.31,436.11 L301.10,435.19 L301.90,434.31 L302.70,433.45 L303.49,432.62 L304.29,431.83 L305.09,431.06 L305.88,430.31 L306.68,429.59 L307.48,428.89 L308.27,428.21 L309.07,427.55 L309.87,426.92 L310.66,426.30 L311.46,425.70 L312.26,425.11 L313.05,424.54 L313.85,423.99 L314.65,423.46 L315.44,422.93 L316.24,422.42 L317.04,421.93 L317.83,421.44 L318.63,420.97 L319.43,420.51 L320.22,420.06 L321.02,419.62 L321.82,419.19 L322.61,418.78 L323.41,418.37 L324.21,417.97 L325.00,417.58 L325.80,417.20 L326.59,416.82 L327.39,416.46 L328.19,416.10 L328.98,415.75 L329.78,415.41 L330.58,415.07 L331.37,414.74 L332.17,414.42 L332.97,414.10 L333.76,413.79 L334.56,413.49 L335.36,413.19 L336.15,412.90 L336.95,412.61 L337.75,412.33 L338.54,412.06 L339.34,411.78 L340.14,411.52 L340.93,411.26 L341.73,411.00 L342.53,410.75 L343.32,410.50 L344.12,410.25 L344.92,410.01 L345.71,409.78 L346.51,409.54 L347.31,409.32 L348.10,409.09 L348.90,408.87 L349.70,408.65 L350.49,408.44 L351.29,408.23 L352.09,408.02 L352.88,407.82 L353.68,407.61 L354.48,407.42 L355.27,407.22 L356.07,407.03 L356.87,406.84 L357.66,406.65 L358.46,406.47 L359.26,406.29 L360.05,406.11 L360.85,405.93 L361.64,405.76 L362.44,405.59 L363.24,405.42 L364.03,405.25 L364.83,405.09 L365.63,404.93 L366.42,404.77 L367.22,404.61 L368.02,404.45 L368.81,404.30 L369.61,404.15 L370.41,404.00 L371.20,403.85 L372.00,403.70 L372.80,403.56 L373.59,403.42 L374.39,403.28 L375.19,403.14 L375.98,403.00 L376.78,402.87 L377.58,402.73 L378.37,402.60 L379.17,402.47 L379.97,402.34 L380.76,402.21 L381.56,402.09 L382.36,401.96 L383.15,401.84 L383.95,401.72 L384.75,401.60 L385.54,401.48 L386.34,401.36 L387.14,401.25 L387.93,401.13 L388.73,401.02 L389.53,400.91 L390.32,400.79 L391.12,400.68 L391.92,400.58 L392.71,400.47 L393.51,400.36 L394.30,400.26 L395.10,400.15 L395.90,400.05 L396.69,399.95 L397.49,399.85 L398.29,399.75 L399.08,399.65 L399.88,399.55 L400.68,399.45 L401.47,399.36 L402.27,399.26 L403.07,399.17 L403.86,399.07 L404.66,398.98 L405.46,398.89 L406.25,398.80 L407.05,398.71 L407.85,398.62 L408.64,398.53 L409.44,398.45 L410.24,398.36 L411.03,398.27 L411.83,398.19 L412.63,398.11 L413.42,398.02 L414.22,397.94 L415.02,397.86 L415.81,397.78 L416.61,397.70 L417.41,397.62 L418.20,397.54 L419.00,397.46 L419.80,397.39 L420.59,397.31 L421.39,397.23 L422.19,397.16 L422.98,397.08 L423.78,397.01 L424.58,396.94 L425.37,396.86 L426.17,396.79 L426.96,396.72 L427.76,396.65 L428.56,396.58 L429.35,396.51 L430.15,396.44 L430.95,396.37 L431.74,396.31 L432.54,396.24 L433.34,396.17 L434.13,396.11 L434.93,396.04 L435.73,395.97 L436.52,395.91" stroke="#e8781e"/>
</g>
<rect x="275.80" y="518.34" width="4.4" height="4.4" fill="#7b2ff0"/>
<rect x="283.82" y="518.34" width="4.4" height="4.4" fill="#7b2ff0"/>
<rect x="293.83" y="518.16" width="4.4" height="4.4" fill="#7b2ff0"/>
<rect x="333.89" y="518.52" width="4.4" height="4.4" fill="#7b2ff0"/>
<rect x="373.96" y="517.98" width="4.4" height="4.4" fill="#7b2ff0"/>
<rect x="434.32" y="518.16" width="4.4" height="4.4" fill="#7b2ff0"/>
<rect x="275.80" y="518.34" width="4.4" height="4.4" fill="#9c3fd8"/>
<rect x="283.82" y="518.16" width="4.4" height="4.4" fill="#9c3fd8"/>
<rect x="293.83" y="517.80" width="4.4" height="4.4" fill="#9c3fd8"/>
<rect x="333.89" y="513.69" width="4.4" height="4.4" fill="#9c3fd8"/>
<rect x="373.96" y="510.29" width="4.4" height="4.4" fill="#9c3fd8"/>
<rect x="434.32" y="500.80" width="4.4" height="4.4" fill="#9c3fd8"/>
<rect x="275.80" y="518.34" width="4.4" height="4.4" fill="#b444b8"/>
<rect x="283.82" y="508.50" width="4.4" height="4.4" fill="#b444b8"/>
<rect x="293.83" y="505.10" width="4.4" height="4.4" fill="#b444b8"/>
<rect x="333.89" y="484.69" width="4.4" height="4.4" fill="#b444b8"/>
<rect x="373.96" y="471.80" width="4.4" height="4.4" fill="#b444b8"/>
<rect x="434.32" y="454.26" width="4.4" height="4.4" fill="#b444b8"/>
<rect x="275.80" y="514.22" width="4.4" height="4.4" fill="#d0357e"/>
<rect x="283.82" y="491.31" width="4.4" height="4.4" fill="#d0357e"/>
<rect x="293.83" y="487.02" width="4.4" height="4.4" fill="#d0357e"/>
<rect x="333.89" y="457.66" width="4.4" height="4.4" fill="#d0357e"/>
<rect x="373.96" y="442.45" width="4.4" height="4.4" fill="#d0357e"/>
<rect x="434.32" y="427.23" width="4.4" height="4.4" fill="#d0357e"/>
<rect x="275.80" y="508.85" width="4.4" height="4.4" fill="#d8343e"/>
<rect x="283.82" y="477.35" width="4.4" height="4.4" fill="#d8343e"/>
<rect x="293.83" y="469.83" width="4.4" height="4.4" fill="#d8343e"/>
<rect x="333.89" y="437.43" width="4.4" height="4.4" fill="#d8343e"/>
<rect x="373.96" y="422.94" width="4.4" height="4.4" fill="#d8343e"/>
<rect x="434.32" y="412.02" width="4.4" height="4.4" fill="#d8343e"/>
<rect x="275.80" y="502.95" width="4.4" height="4.4" fill="#e2542a"/>
<rect x="283.82" y="465.89" width="4.4" height="4.4" fill="#e2542a"/>
<rect x="293.83" y="454.26" width="4.4" height="4.4" fill="#e2542a"/>
<rect x="333.89" y="422.94" width="4.4" height="4.4" fill="#e2542a"/>
<rect x="373.96" y="410.05" width="4.4" height="4.4" fill="#e2542a"/>
<rect x="434.32" y="401.45" width="4.4" height="4.4" fill="#e2542a"/>
<rect x="275.80" y="498.12" width="4.4" height="4.4" fill="#e8781e"/>
<rect x="283.82" y="456.94" width="4.4" height="4.4" fill="#e8781e"/>
<rect x="293.83" y="441.37" width="4.4" height="4.4" fill="#e8781e"/>
<rect x="333.89" y="412.02" width="4.4" height="4.4" fill="#e8781e"/>
<rect x="373.96" y="399.49" width="4.4" height="4.4" fill="#e8781e"/>
<rect x="434.32" y="393.76" width="4.4" height="4.4" fill="#e8781e"/>
<rect x="262.6" y="379.6" width="191.20" height="150.70" fill="none" stroke="#6c6c6c" stroke-width="1.3"/>
<text x="257.80" y="523.90" font-size="8.60" text-anchor="end" fill="#222">0</text>
<text x="257.80" y="506.00" font-size="8.60" text-anchor="end" fill="#222">100</text>
<text x="257.80" y="488.10" font-size="8.60" text-anchor="end" fill="#222">200</text>
<text x="257.80" y="470.20" font-size="8.60" text-anchor="end" fill="#222">300</text>
<text x="257.80" y="452.30" font-size="8.60" text-anchor="end" fill="#222">400</text>
<text x="257.80" y="434.40" font-size="8.60" text-anchor="end" fill="#222">500</text>
<text x="257.80" y="416.50" font-size="8.60" text-anchor="end" fill="#222">600</text>
<text x="257.80" y="398.60" font-size="8.60" text-anchor="end" fill="#222">700</text>
<text x="276.00" y="542.20" font-size="8.60" text-anchor="middle" fill="#222">0</text>
<text x="303.44" y="542.20" font-size="8.60" text-anchor="middle" fill="#222">2</text>
<text x="330.88" y="542.20" font-size="8.60" text-anchor="middle" fill="#222">4</text>
<text x="358.32" y="542.20" font-size="8.60" text-anchor="middle" fill="#222">6</text>
<text x="385.76" y="542.20" font-size="8.60" text-anchor="middle" fill="#222">8</text>
<text x="413.20" y="542.20" font-size="8.60" text-anchor="middle" fill="#222">10</text>
<text x="440.64" y="542.20" font-size="8.60" text-anchor="middle" fill="#222">12</text>
<path d="M262.6,520.90h3.5 M262.6,503.00h3.5 M262.6,485.10h3.5 M262.6,467.20h3.5 M262.6,449.30h3.5 M262.6,431.40h3.5 M262.6,413.50h3.5 M262.6,395.60h3.5 M276.00,530.3v-3.5 M303.44,530.3v-3.5 M330.88,530.3v-3.5 M358.32,530.3v-3.5 M385.76,530.3v-3.5 M413.20,530.3v-3.5 M440.64,530.3v-3.5" stroke="#2a2a2a" stroke-width="1" fill="none"/>
<text x="295.3" y="555.6" font-size="10" fill="#222" textLength="115" lengthAdjust="spacingAndGlyphs">Light Intensity (nW cm<tspan font-size="6.5" dy="-4">-2</tspan><tspan dy="4">)</tspan></text>
<text transform="translate(238.4 454.6) rotate(-90)" text-anchor="middle" font-size="10.2" fill="#222"><tspan font-style="italic">P</tspan><tspan font-size="7" font-style="italic" dy="2">t</tspan><tspan dy="-2"> (arb. units)</tspan></text>
<rect x="276.60" y="386.20" width="3.6" height="3.6" fill="#7b2ff0"/>
<text x="286.80" y="391.10" font-size="8.60" fill="#222">1 s</text>
<rect x="306.20" y="386.20" width="3.6" height="3.6" fill="#9c3fd8"/>
<text x="316.40" y="391.10" font-size="8.60" fill="#222">5 s</text>
<rect x="335.80" y="386.20" width="3.6" height="3.6" fill="#b444b8"/>
<text x="346.00" y="391.10" font-size="8.60" fill="#222">10 s</text>
<rect x="365.40" y="386.20" width="3.6" height="3.6" fill="#d0357e"/>
<text x="375.60" y="391.10" font-size="8.60" fill="#222">15 s</text>
<rect x="276.60" y="399.60" width="3.6" height="3.6" fill="#d8343e"/>
<text x="286.80" y="404.50" font-size="8.60" fill="#222">20 s</text>
<rect x="306.20" y="399.60" width="3.6" height="3.6" fill="#e2542a"/>
<text x="316.40" y="404.50" font-size="8.60" fill="#222">25 s</text>
<rect x="335.80" y="399.60" width="3.6" height="3.6" fill="#e8781e"/>
<text x="346.00" y="404.50" font-size="8.60" fill="#222">30 s</text>
<path d="M508.11,518.89 L516.14,498.23 L526.18,465.50 L566.33,447.37 L606.48,417.70 L666.98,404.99" stroke="#7a2ff0" stroke-width="1.2" fill="none"/>
<circle cx="508.11" cy="518.89" r="2.1" fill="#7a2ff0"/>
<circle cx="516.14" cy="498.23" r="2.1" fill="#7a2ff0"/>
<circle cx="526.18" cy="465.50" r="2.1" fill="#7a2ff0"/>
<circle cx="566.33" cy="447.37" r="2.1" fill="#7a2ff0"/>
<circle cx="606.48" cy="417.70" r="2.1" fill="#7a2ff0"/>
<circle cx="666.98" cy="404.99" r="2.1" fill="#7a2ff0"/>
<path d="M508.11,438.11 L516.14,442.87 L526.18,421.42 L566.33,402.90 L606.48,393.12 L666.98,388.30" stroke="#9a3fd0" stroke-width="1.2" fill="none"/>
<circle cx="508.11" cy="438.11" r="2.1" fill="#9a3fd0"/>
<circle cx="516.14" cy="442.87" r="2.1" fill="#9a3fd0"/>
<circle cx="526.18" cy="421.42" r="2.1" fill="#9a3fd0"/>
<circle cx="566.33" cy="402.90" r="2.1" fill="#9a3fd0"/>
<circle cx="606.48" cy="393.12" r="2.1" fill="#9a3fd0"/>
<circle cx="666.98" cy="388.30" r="2.1" fill="#9a3fd0"/>
<path d="M508.11,414.77 L516.14,424.29 L526.18,411.18 L566.33,395.86 L606.48,393.58 L666.98,393.12" stroke="#b444b0" stroke-width="1.2" fill="none"/>
<circle cx="508.11" cy="414.77" r="2.1" fill="#b444b0"/>
<circle cx="516.14" cy="424.29" r="2.1" fill="#b444b0"/>
<circle cx="526.18" cy="411.18" r="2.1" fill="#b444b0"/>
<circle cx="566.33" cy="395.86" r="2.1" fill="#b444b0"/>
<circle cx="606.48" cy="393.58" r="2.1" fill="#b444b0"/>
<circle cx="666.98" cy="393.12" r="2.1" fill="#b444b0"/>
<path d="M508.11,406.62 L516.14,413.47 L526.18,405.32 L566.33,395.86 L606.48,398.21 L666.98,401.21" stroke="#d0356e" stroke-width="1.2" fill="none"/>
<circle cx="508.11" cy="406.62" r="2.1" fill="#d0356e"/>
<circle cx="516.14" cy="413.47" r="2.1" fill="#d0356e"/>
<circle cx="526.18" cy="405.32" r="2.1" fill="#d0356e"/>
<circle cx="566.33" cy="395.86" r="2.1" fill="#d0356e"/>
<circle cx="606.48" cy="398.21" r="2.1" fill="#d0356e"/>
<circle cx="666.98" cy="401.21" r="2.1" fill="#d0356e"/>
<path d="M508.11,400.75 L516.14,406.62 L526.18,402.77 L566.33,396.64 L606.48,403.29 L666.98,409.81" stroke="#d8343a" stroke-width="1.2" fill="none"/>
<circle cx="508.11" cy="400.75" r="2.1" fill="#d8343a"/>
<circle cx="516.14" cy="406.62" r="2.1" fill="#d8343a"/>
<circle cx="526.18" cy="402.77" r="2.1" fill="#d8343a"/>
<circle cx="566.33" cy="396.64" r="2.1" fill="#d8343a"/>
<circle cx="606.48" cy="403.29" r="2.1" fill="#d8343a"/>
<circle cx="666.98" cy="409.81" r="2.1" fill="#d8343a"/>
<path d="M508.11,398.27 L516.14,400.10 L526.18,400.10 L566.33,399.38 L606.48,407.99 L666.98,419.20" stroke="#e0562a" stroke-width="1.2" fill="none"/>
<circle cx="508.11" cy="398.27" r="2.1" fill="#e0562a"/>
<circle cx="516.14" cy="400.10" r="2.1" fill="#e0562a"/>
<circle cx="526.18" cy="400.10" r="2.1" fill="#e0562a"/>
<circle cx="566.33" cy="399.38" r="2.1" fill="#e0562a"/>
<circle cx="606.48" cy="407.99" r="2.1" fill="#e0562a"/>
<circle cx="666.98" cy="419.20" r="2.1" fill="#e0562a"/>
<rect x="492.5" y="380.4" width="191.90" height="150.20" fill="none" stroke="#2a2a2a" stroke-width="1"/>
<text x="487.80" y="533.50" font-size="8.60" text-anchor="end" fill="#222">0.5</text>
<text x="487.80" y="500.90" font-size="8.60" text-anchor="end" fill="#222">1.0</text>
<text x="487.80" y="468.30" font-size="8.60" text-anchor="end" fill="#222">1.5</text>
<text x="487.80" y="435.70" font-size="8.60" text-anchor="end" fill="#222">2.0</text>
<text x="487.80" y="403.10" font-size="8.60" text-anchor="end" fill="#222">2.5</text>
<text x="506.10" y="542.60" font-size="8.60" text-anchor="middle" fill="#222">0</text>
<text x="533.60" y="542.60" font-size="8.60" text-anchor="middle" fill="#222">2</text>
<text x="561.10" y="542.60" font-size="8.60" text-anchor="middle" fill="#222">4</text>
<text x="588.60" y="542.60" font-size="8.60" text-anchor="middle" fill="#222">6</text>
<text x="616.10" y="542.60" font-size="8.60" text-anchor="middle" fill="#222">8</text>
<text x="643.60" y="542.60" font-size="8.60" text-anchor="middle" fill="#222">10</text>
<text x="671.10" y="542.60" font-size="8.60" text-anchor="middle" fill="#222">12</text>
<path d="M492.5,530.50h3.5 M492.5,497.90h3.5 M492.5,465.30h3.5 M492.5,432.70h3.5 M492.5,400.10h3.5 M506.10,530.6v-3.5 M533.60,530.6v-3.5 M561.10,530.6v-3.5 M588.60,530.6v-3.5 M616.10,530.6v-3.5 M643.60,530.6v-3.5 M671.10,530.6v-3.5" stroke="#2a2a2a" stroke-width="1" fill="none"/>
<text x="524.4" y="555.8" font-size="10" fill="#222" textLength="117" lengthAdjust="spacingAndGlyphs">Light Intensity (nW cm<tspan font-size="6.5" dy="-4">-2</tspan><tspan dy="4">)</tspan></text>
<text transform="translate(468.6 454.2) rotate(-90)" text-anchor="middle" font-size="10.2" fill="#222" textLength="68" lengthAdjust="spacingAndGlyphs">AAI (arb. units)</text>
<line x1="622.9" y1="444.50" x2="641.9" y2="444.50" stroke="#7a2ff0" stroke-width="1.2"/>
<circle cx="632.6" cy="444.50" r="1.9" fill="#7a2ff0"/>
<text x="646.80" y="447.70" font-size="8.80" fill="#222">5 s</text>
<line x1="622.9" y1="457.40" x2="641.9" y2="457.40" stroke="#9a3fd0" stroke-width="1.2"/>
<circle cx="632.6" cy="457.40" r="1.9" fill="#9a3fd0"/>
<text x="646.80" y="460.60" font-size="8.80" fill="#222">10 s</text>
<line x1="622.9" y1="470.30" x2="641.9" y2="470.30" stroke="#b444b0" stroke-width="1.2"/>
<circle cx="632.6" cy="470.30" r="1.9" fill="#b444b0"/>
<text x="646.80" y="473.50" font-size="8.80" fill="#222">15 s</text>
<line x1="622.9" y1="483.20" x2="641.9" y2="483.20" stroke="#d0356e" stroke-width="1.2"/>
<circle cx="632.6" cy="483.20" r="1.9" fill="#d0356e"/>
<text x="646.80" y="486.40" font-size="8.80" fill="#222">20 s</text>
<line x1="622.9" y1="496.10" x2="641.9" y2="496.10" stroke="#d8343a" stroke-width="1.2"/>
<circle cx="632.6" cy="496.10" r="1.9" fill="#d8343a"/>
<text x="646.80" y="499.30" font-size="8.80" fill="#222">25 s</text>
<line x1="622.9" y1="509.00" x2="641.9" y2="509.00" stroke="#e0562a" stroke-width="1.2"/>
<circle cx="632.6" cy="509.00" r="1.9" fill="#e0562a"/>
<text x="646.80" y="512.20" font-size="8.80" fill="#222">30 s</text>
</svg>
</body></html>
